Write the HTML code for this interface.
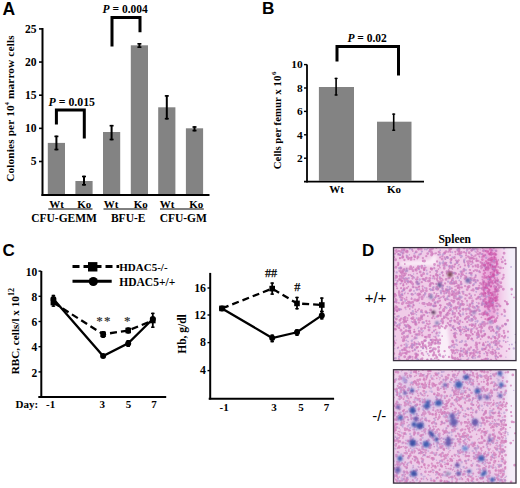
<!DOCTYPE html>
<html><head><meta charset="utf-8"><style>
html,body{margin:0;padding:0;background:#fff;}
svg{display:block;}
</style></head><body>
<svg width="520" height="488" viewBox="0 0 520 488">
<text x="2.5" y="14.5" font-family="'Liberation Sans',sans-serif" font-weight="bold" font-size="17.5" text-anchor="start" >A</text>
<line x1="42.5" y1="28" x2="42.5" y2="196" stroke="#000" stroke-width="2" />
<line x1="39" y1="28.9" x2="42.5" y2="28.9" stroke="#000" stroke-width="1.6" />
<text x="36.5" y="32.6" font-family="'Liberation Serif',serif" font-weight="bold" font-size="11.6" text-anchor="end" >25</text>
<line x1="39" y1="62.05" x2="42.5" y2="62.05" stroke="#000" stroke-width="1.6" />
<text x="36.5" y="65.75" font-family="'Liberation Serif',serif" font-weight="bold" font-size="11.6" text-anchor="end" >20</text>
<line x1="39" y1="95.2" x2="42.5" y2="95.2" stroke="#000" stroke-width="1.6" />
<text x="36.5" y="98.9" font-family="'Liberation Serif',serif" font-weight="bold" font-size="11.6" text-anchor="end" >15</text>
<line x1="39" y1="128.35" x2="42.5" y2="128.35" stroke="#000" stroke-width="1.6" />
<text x="36.5" y="132.04999999999998" font-family="'Liberation Serif',serif" font-weight="bold" font-size="11.6" text-anchor="end" >10</text>
<line x1="39" y1="161.5" x2="42.5" y2="161.5" stroke="#000" stroke-width="1.6" />
<text x="36.5" y="165.2" font-family="'Liberation Serif',serif" font-weight="bold" font-size="11.6" text-anchor="end" >5</text>
<line x1="41.5" y1="195" x2="209.5" y2="195" stroke="#000" stroke-width="2.2" />
<rect x="47.8" y="142.9" width="17.2" height="51.099999999999994" fill="#838383"/>
<rect x="75.4" y="181" width="17.2" height="13" fill="#838383"/>
<rect x="103.0" y="132" width="17.2" height="62" fill="#838383"/>
<rect x="130.8" y="45.3" width="17.2" height="148.7" fill="#838383"/>
<rect x="158.20000000000002" y="107.3" width="17.2" height="86.7" fill="#838383"/>
<rect x="185.9" y="128.3" width="17.2" height="65.69999999999999" fill="#838383"/>
<line x1="56.4" y1="135.6" x2="56.4" y2="150.3" stroke="#000" stroke-width="2" />
<line x1="54.4" y1="136.4" x2="58.4" y2="136.4" stroke="#000" stroke-width="1.6" />
<line x1="54.4" y1="149.5" x2="58.4" y2="149.5" stroke="#000" stroke-width="1.6" />
<line x1="84" y1="175.7" x2="84" y2="185.6" stroke="#000" stroke-width="2" />
<line x1="82.0" y1="176.5" x2="86.0" y2="176.5" stroke="#000" stroke-width="1.6" />
<line x1="82.0" y1="184.79999999999998" x2="86.0" y2="184.79999999999998" stroke="#000" stroke-width="1.6" />
<line x1="111.6" y1="124.9" x2="111.6" y2="140.3" stroke="#000" stroke-width="2" />
<line x1="109.6" y1="125.7" x2="113.6" y2="125.7" stroke="#000" stroke-width="1.6" />
<line x1="109.6" y1="139.5" x2="113.6" y2="139.5" stroke="#000" stroke-width="1.6" />
<line x1="139.4" y1="43" x2="139.4" y2="48" stroke="#000" stroke-width="2" />
<line x1="137.4" y1="43.8" x2="141.4" y2="43.8" stroke="#000" stroke-width="1.6" />
<line x1="137.4" y1="47.2" x2="141.4" y2="47.2" stroke="#000" stroke-width="1.6" />
<line x1="166.8" y1="95.1" x2="166.8" y2="119.5" stroke="#000" stroke-width="2" />
<line x1="164.8" y1="95.89999999999999" x2="168.8" y2="95.89999999999999" stroke="#000" stroke-width="1.6" />
<line x1="164.8" y1="118.7" x2="168.8" y2="118.7" stroke="#000" stroke-width="1.6" />
<line x1="194.5" y1="126.2" x2="194.5" y2="131.4" stroke="#000" stroke-width="2" />
<line x1="192.5" y1="127.0" x2="196.5" y2="127.0" stroke="#000" stroke-width="1.6" />
<line x1="192.5" y1="130.6" x2="196.5" y2="130.6" stroke="#000" stroke-width="1.6" />
<path d="M56.4 124.4 V110.1 H84.3 V138.6" fill="none" stroke="#000" stroke-width="3"/>
<path d="M112 46.5 V17.6 H140 V32.2" fill="none" stroke="#000" stroke-width="3"/>
<text x="48.6" y="106" font-family="'Liberation Serif',serif" font-weight="bold" font-size="11.8" text-anchor="start" ><tspan font-style="italic">P</tspan> = 0.015</text>
<text x="102.6" y="12.9" font-family="'Liberation Serif',serif" font-weight="bold" font-size="11.5" text-anchor="start" ><tspan font-style="italic">P</tspan> = 0.004</text>
<text x="56.5" y="207.5" font-family="'Liberation Serif',serif" font-weight="bold" font-size="11" text-anchor="middle" >Wt</text>
<text x="84.2" y="207.5" font-family="'Liberation Serif',serif" font-weight="bold" font-size="11" text-anchor="middle" >Ko</text>
<text x="111.2" y="207.5" font-family="'Liberation Serif',serif" font-weight="bold" font-size="11" text-anchor="middle" >Wt</text>
<text x="140.7" y="207.5" font-family="'Liberation Serif',serif" font-weight="bold" font-size="11" text-anchor="middle" >Ko</text>
<text x="167.1" y="207.5" font-family="'Liberation Serif',serif" font-weight="bold" font-size="11" text-anchor="middle" >Wt</text>
<text x="196.3" y="207.5" font-family="'Liberation Serif',serif" font-weight="bold" font-size="11" text-anchor="middle" >Ko</text>
<line x1="48.3" y1="209" x2="92.5" y2="209" stroke="#000" stroke-width="1" />
<line x1="103.5" y1="209" x2="147.2" y2="209" stroke="#000" stroke-width="1" />
<line x1="160" y1="209" x2="203.8" y2="209" stroke="#000" stroke-width="1" />
<text x="64.1" y="221.5" font-family="'Liberation Serif',serif" font-weight="bold" font-size="11.5" text-anchor="middle" >CFU-GEMM</text>
<text x="128.2" y="221.5" font-family="'Liberation Serif',serif" font-weight="bold" font-size="11.5" text-anchor="middle" >BFU-E</text>
<text x="183.3" y="221.5" font-family="'Liberation Serif',serif" font-weight="bold" font-size="11.5" text-anchor="middle" >CFU-GM</text>
<text transform="translate(14.0,108.5) rotate(-90)" font-family="'Liberation Serif',serif" font-weight="bold" font-size="11.25" letter-spacing="0.15" text-anchor="middle">Colonies per 10<tspan dy="-5" font-size="6.3">4</tspan><tspan dy="5"> marrow cells</tspan></text>
<text x="262" y="14.3" font-family="'Liberation Sans',sans-serif" font-weight="bold" font-size="17.2" text-anchor="start" >B</text>
<line x1="307" y1="64.6" x2="307" y2="182.5" stroke="#000" stroke-width="1.8" />
<line x1="304" y1="64.6" x2="307" y2="64.6" stroke="#000" stroke-width="1.4" />
<text x="302.6" y="68.39999999999999" font-family="'Liberation Serif',serif" font-weight="bold" font-size="11.4" text-anchor="end" >10</text>
<line x1="304" y1="88.0" x2="307" y2="88.0" stroke="#000" stroke-width="1.4" />
<text x="302.6" y="91.8" font-family="'Liberation Serif',serif" font-weight="bold" font-size="11.4" text-anchor="end" >8</text>
<line x1="304" y1="111.4" x2="307" y2="111.4" stroke="#000" stroke-width="1.4" />
<text x="302.6" y="115.2" font-family="'Liberation Serif',serif" font-weight="bold" font-size="11.4" text-anchor="end" >6</text>
<line x1="304" y1="134.8" x2="307" y2="134.8" stroke="#000" stroke-width="1.4" />
<text x="302.6" y="138.60000000000002" font-family="'Liberation Serif',serif" font-weight="bold" font-size="11.4" text-anchor="end" >4</text>
<line x1="304" y1="158.2" x2="307" y2="158.2" stroke="#000" stroke-width="1.4" />
<text x="302.6" y="162.0" font-family="'Liberation Serif',serif" font-weight="bold" font-size="11.4" text-anchor="end" >2</text>
<line x1="304" y1="181.6" x2="424" y2="181.6" stroke="#000" stroke-width="1.8" />
<rect x="318.9" y="87" width="35.1" height="94" fill="#838383"/>
<rect x="377" y="121.7" width="34.5" height="59.4" fill="#838383"/>
<line x1="336.1" y1="77.8" x2="336.1" y2="95.6" stroke="#000" stroke-width="1.6" />
<line x1="334.6" y1="78.45" x2="337.6" y2="78.45" stroke="#000" stroke-width="1.3" />
<line x1="334.6" y1="94.94999999999999" x2="337.6" y2="94.94999999999999" stroke="#000" stroke-width="1.3" />
<line x1="393.7" y1="113.5" x2="393.7" y2="130.9" stroke="#000" stroke-width="1.6" />
<line x1="392.2" y1="114.15" x2="395.2" y2="114.15" stroke="#000" stroke-width="1.3" />
<line x1="392.2" y1="130.25" x2="395.2" y2="130.25" stroke="#000" stroke-width="1.3" />
<path d="M337 61.6 V46.5 H398.5 V75.5" fill="none" stroke="#000" stroke-width="3"/>
<text x="347.4" y="41.9" font-family="'Liberation Serif',serif" font-weight="bold" font-size="11.5" text-anchor="start" ><tspan font-style="italic">P</tspan> = 0.02</text>
<text x="336.5" y="192.8" font-family="'Liberation Serif',serif" font-weight="bold" font-size="11" text-anchor="middle" >Wt</text>
<text x="394" y="192.8" font-family="'Liberation Serif',serif" font-weight="bold" font-size="11" text-anchor="middle" >Ko</text>
<text transform="translate(280.8,120.4) rotate(-90)" font-family="'Liberation Serif',serif" font-weight="bold" font-size="10.85" text-anchor="middle">Cells per femur x 10<tspan dx="0.6" dy="-4.8" font-size="7">6</tspan></text>
<text x="2.5" y="256" font-family="'Liberation Sans',sans-serif" font-weight="bold" font-size="17" text-anchor="start" >C</text>
<line x1="41.3" y1="271" x2="41.3" y2="397.5" stroke="#000" stroke-width="2" />
<line x1="38.5" y1="271.1" x2="41.3" y2="271.1" stroke="#000" stroke-width="1.4" />
<text x="37.2" y="275.70000000000005" font-family="'Liberation Serif',serif" font-weight="bold" font-size="11.5" text-anchor="end" >10</text>
<line x1="38.5" y1="296.3" x2="41.3" y2="296.3" stroke="#000" stroke-width="1.4" />
<text x="37.2" y="300.90000000000003" font-family="'Liberation Serif',serif" font-weight="bold" font-size="11.5" text-anchor="end" >8</text>
<line x1="38.5" y1="321.5" x2="41.3" y2="321.5" stroke="#000" stroke-width="1.4" />
<text x="37.2" y="326.1" font-family="'Liberation Serif',serif" font-weight="bold" font-size="11.5" text-anchor="end" >6</text>
<line x1="38.5" y1="346.7" x2="41.3" y2="346.7" stroke="#000" stroke-width="1.4" />
<text x="37.2" y="351.3" font-family="'Liberation Serif',serif" font-weight="bold" font-size="11.5" text-anchor="end" >4</text>
<line x1="38.5" y1="371.9" x2="41.3" y2="371.9" stroke="#000" stroke-width="1.4" />
<text x="37.2" y="376.5" font-family="'Liberation Serif',serif" font-weight="bold" font-size="11.5" text-anchor="end" >2</text>
<line x1="38.3" y1="396.9" x2="166.2" y2="396.9" stroke="#000" stroke-width="2" />
<text x="15.5" y="408.3" font-family="'Liberation Serif',serif" font-weight="bold" font-size="11" text-anchor="start" >Day:</text>
<text x="50.7" y="408.2" font-family="'Liberation Serif',serif" font-weight="bold" font-size="11" text-anchor="middle" >-1</text>
<text x="102.3" y="408.2" font-family="'Liberation Serif',serif" font-weight="bold" font-size="11" text-anchor="middle" >3</text>
<text x="128.5" y="408.2" font-family="'Liberation Serif',serif" font-weight="bold" font-size="11" text-anchor="middle" >5</text>
<text x="154" y="408.2" font-family="'Liberation Serif',serif" font-weight="bold" font-size="11" text-anchor="middle" >7</text>
<polyline points="53.4,299 103.1,356 128.2,343.4 152.8,319" fill="none" stroke="#000" stroke-width="2.3" />
<polyline points="53.4,302.5 103.1,334.3 128.2,330.5 152.8,320.5" fill="none" stroke="#000" stroke-width="2.3" stroke-dasharray="7,4"/>
<line x1="53.4" y1="294.8" x2="53.4" y2="306.8" stroke="#000" stroke-width="1.8" />
<line x1="51.65" y1="295.5" x2="55.15" y2="295.5" stroke="#000" stroke-width="1.4" />
<line x1="51.65" y1="306.1" x2="55.15" y2="306.1" stroke="#000" stroke-width="1.4" />
<line x1="103.1" y1="331" x2="103.1" y2="338" stroke="#000" stroke-width="1.8" />
<line x1="101.35" y1="331.7" x2="104.85" y2="331.7" stroke="#000" stroke-width="1.4" />
<line x1="101.35" y1="337.3" x2="104.85" y2="337.3" stroke="#000" stroke-width="1.4" />
<line x1="128.2" y1="327.5" x2="128.2" y2="333.5" stroke="#000" stroke-width="1.8" />
<line x1="126.44999999999999" y1="328.2" x2="129.95" y2="328.2" stroke="#000" stroke-width="1.4" />
<line x1="126.44999999999999" y1="332.8" x2="129.95" y2="332.8" stroke="#000" stroke-width="1.4" />
<line x1="152.8" y1="312.7" x2="152.8" y2="327.9" stroke="#000" stroke-width="1.8" />
<line x1="151.05" y1="313.4" x2="154.55" y2="313.4" stroke="#000" stroke-width="1.4" />
<line x1="151.05" y1="327.2" x2="154.55" y2="327.2" stroke="#000" stroke-width="1.4" />
<line x1="128.2" y1="340" x2="128.2" y2="347" stroke="#000" stroke-width="1.8" />
<line x1="126.44999999999999" y1="340.7" x2="129.95" y2="340.7" stroke="#000" stroke-width="1.4" />
<line x1="126.44999999999999" y1="346.3" x2="129.95" y2="346.3" stroke="#000" stroke-width="1.4" />
<rect x="50.6" y="299.7" width="5.6" height="5.6" fill="#000"/>
<rect x="100.3" y="331.5" width="5.6" height="5.6" fill="#000"/>
<rect x="125.39999999999999" y="327.7" width="5.6" height="5.6" fill="#000"/>
<rect x="150.0" y="317.7" width="5.6" height="5.6" fill="#000"/>
<circle cx="53.4" cy="299" r="3" fill="#000"/>
<circle cx="103.1" cy="356" r="3" fill="#000"/>
<circle cx="128.2" cy="343.4" r="3" fill="#000"/>
<circle cx="152.8" cy="319" r="3" fill="#000"/>
<text x="99.6" y="325.3" font-family="'Liberation Serif',serif" font-weight="bold" font-size="13" text-anchor="middle" fill="#3a3a3a">*</text>
<text x="107.3" y="325.3" font-family="'Liberation Serif',serif" font-weight="bold" font-size="13" text-anchor="middle" fill="#3a3a3a">*</text>
<text x="127.2" y="325.3" font-family="'Liberation Serif',serif" font-weight="bold" font-size="13" text-anchor="middle" fill="#3a3a3a">*</text>
<line x1="72.5" y1="266.5" x2="119.2" y2="266.5" stroke="#000" stroke-width="3" stroke-dasharray="7,4"/>
<rect x="88.0" y="262.1" width="9.4" height="9.4" fill="#000"/>
<line x1="72.5" y1="281.2" x2="111.7" y2="281.2" stroke="#000" stroke-width="3" />
<circle cx="93.3" cy="281.5" r="4.6" fill="#000"/>
<text x="119.3" y="271" font-family="'Liberation Serif',serif" font-weight="bold" font-size="11" text-anchor="start" >HDAC5-/-</text>
<text x="119.3" y="285.6" font-family="'Liberation Serif',serif" font-weight="bold" font-size="11.5" text-anchor="start" >HDAC5+/+</text>
<text transform="translate(19,331.2) rotate(-90)" font-family="'Liberation Serif',serif" font-weight="bold" font-size="11.2" text-anchor="middle">RBC, cells/l x 10<tspan dy="-5" font-size="8">12</tspan></text>
<line x1="210.2" y1="272.9" x2="210.2" y2="399.5" stroke="#000" stroke-width="2" />
<line x1="207.5" y1="288" x2="210.2" y2="288" stroke="#000" stroke-width="1.4" />
<text x="206" y="291.8" font-family="'Liberation Serif',serif" font-weight="bold" font-size="11.8" text-anchor="end" >16</text>
<line x1="207.5" y1="315" x2="210.2" y2="315" stroke="#000" stroke-width="1.4" />
<text x="206" y="318.8" font-family="'Liberation Serif',serif" font-weight="bold" font-size="11.8" text-anchor="end" >12</text>
<line x1="207.5" y1="342.6" x2="210.2" y2="342.6" stroke="#000" stroke-width="1.4" />
<text x="206" y="346.40000000000003" font-family="'Liberation Serif',serif" font-weight="bold" font-size="11.8" text-anchor="end" >8</text>
<line x1="207.5" y1="370.6" x2="210.2" y2="370.6" stroke="#000" stroke-width="1.4" />
<text x="206" y="374.40000000000003" font-family="'Liberation Serif',serif" font-weight="bold" font-size="11.8" text-anchor="end" >4</text>
<line x1="208.7" y1="398.8" x2="334.1" y2="398.8" stroke="#000" stroke-width="2" />
<text x="224.1" y="410.8" font-family="'Liberation Serif',serif" font-weight="bold" font-size="11" text-anchor="middle" >-1</text>
<text x="274" y="410.8" font-family="'Liberation Serif',serif" font-weight="bold" font-size="11" text-anchor="middle" >3</text>
<text x="300.9" y="410.8" font-family="'Liberation Serif',serif" font-weight="bold" font-size="11" text-anchor="middle" >5</text>
<text x="326.4" y="410.8" font-family="'Liberation Serif',serif" font-weight="bold" font-size="11" text-anchor="middle" >7</text>
<polyline points="222,308.4 272.2,338 297,332.3 321.8,315.4" fill="none" stroke="#000" stroke-width="2.3" />
<polyline points="222,308.4 272.2,288.6 297,303.4 321.8,305" fill="none" stroke="#000" stroke-width="2.3" stroke-dasharray="7,4"/>
<line x1="272.2" y1="282.4" x2="272.2" y2="294.8" stroke="#000" stroke-width="1.8" />
<line x1="270.45" y1="283.09999999999997" x2="273.95" y2="283.09999999999997" stroke="#000" stroke-width="1.4" />
<line x1="270.45" y1="294.1" x2="273.95" y2="294.1" stroke="#000" stroke-width="1.4" />
<line x1="297" y1="296.8" x2="297" y2="309.4" stroke="#000" stroke-width="1.8" />
<line x1="295.25" y1="297.5" x2="298.75" y2="297.5" stroke="#000" stroke-width="1.4" />
<line x1="295.25" y1="308.7" x2="298.75" y2="308.7" stroke="#000" stroke-width="1.4" />
<line x1="321.8" y1="297.4" x2="321.8" y2="312" stroke="#000" stroke-width="1.8" />
<line x1="320.05" y1="298.09999999999997" x2="323.55" y2="298.09999999999997" stroke="#000" stroke-width="1.4" />
<line x1="320.05" y1="311.3" x2="323.55" y2="311.3" stroke="#000" stroke-width="1.4" />
<line x1="272.2" y1="334.5" x2="272.2" y2="342.3" stroke="#000" stroke-width="1.8" />
<line x1="270.45" y1="335.2" x2="273.95" y2="335.2" stroke="#000" stroke-width="1.4" />
<line x1="270.45" y1="341.6" x2="273.95" y2="341.6" stroke="#000" stroke-width="1.4" />
<line x1="297" y1="329.2" x2="297" y2="335.9" stroke="#000" stroke-width="1.8" />
<line x1="295.25" y1="329.9" x2="298.75" y2="329.9" stroke="#000" stroke-width="1.4" />
<line x1="295.25" y1="335.2" x2="298.75" y2="335.2" stroke="#000" stroke-width="1.4" />
<line x1="321.8" y1="311" x2="321.8" y2="319.5" stroke="#000" stroke-width="1.8" />
<line x1="320.05" y1="311.7" x2="323.55" y2="311.7" stroke="#000" stroke-width="1.4" />
<line x1="320.05" y1="318.8" x2="323.55" y2="318.8" stroke="#000" stroke-width="1.4" />
<rect x="219.2" y="305.59999999999997" width="5.6" height="5.6" fill="#000"/>
<rect x="269.4" y="285.8" width="5.6" height="5.6" fill="#000"/>
<rect x="294.2" y="300.59999999999997" width="5.6" height="5.6" fill="#000"/>
<rect x="319.0" y="302.2" width="5.6" height="5.6" fill="#000"/>
<circle cx="222" cy="308.4" r="3" fill="#000"/>
<circle cx="272.2" cy="338" r="3" fill="#000"/>
<circle cx="297" cy="332.3" r="3" fill="#000"/>
<circle cx="321.8" cy="315.4" r="3" fill="#000"/>
<text x="271" y="277.2" font-family="'Liberation Serif',serif" font-weight="normal" font-size="12.2" text-anchor="middle" stroke="#000" stroke-width="0.25">##</text>
<text x="297.3" y="291.1" font-family="'Liberation Serif',serif" font-weight="normal" font-size="12.2" text-anchor="middle" stroke="#000" stroke-width="0.25">#</text>
<text transform="translate(186.4,334) rotate(-90)" font-family="'Liberation Serif',serif" font-weight="bold" font-size="11.5" text-anchor="middle">Hb, g/dl</text>
<text x="362" y="256" font-family="'Liberation Sans',sans-serif" font-weight="bold" font-size="17" text-anchor="start" >D</text>
<text x="454.7" y="242.5" font-family="'Liberation Serif',serif" font-weight="bold" font-size="11.5" text-anchor="middle" >Spleen</text>
<text x="375.6" y="302.5" font-family="'Liberation Sans',sans-serif" font-weight="normal" font-size="15" text-anchor="middle" >+/+</text>
<text x="379.3" y="421" font-family="'Liberation Sans',sans-serif" font-weight="normal" font-size="15" text-anchor="middle" >-/-</text>
<defs>
<filter id="b3" x="-30%" y="-30%" width="160%" height="160%"><feGaussianBlur stdDeviation="3"/></filter>
<filter id="b2" x="-30%" y="-30%" width="160%" height="160%"><feGaussianBlur stdDeviation="1.8"/></filter>
<filter id="b07"><feGaussianBlur stdDeviation="0.6"/></filter>
<filter id="b12" x="-50%" y="-50%" width="200%" height="200%"><feGaussianBlur stdDeviation="1.1"/></filter>
</defs><defs><clipPath id="c1"><rect x="393.5" y="247.6" width="122.5" height="113"/></clipPath></defs><g clip-path="url(#c1)"><rect x="393.5" y="247.6" width="122.5" height="113" fill="#f0cce8"/><g filter="url(#b3)"><path d="M482 240 L498 240 L499 300 L497 318 L485 318 L482 300 Z" fill="#eaa8da"/><path d="M498 240 L506 240 L510 365 L500 365 L499 300 Z" fill="#f4d6ee"/><path d="M506 240 L520 240 L520 365 L511 365 Z" fill="#f3eff9"/></g><g filter="url(#b2)"><path d="M400 262 L430 260 L433 255 L437 256 L436 266 L428 265.5 L401 265.5 Z" fill="#fbf2fa" opacity="0.85"/><path d="M440 326 L447 324 L452 362 L437 362 Z" fill="#fcf4fc" opacity="0.85"/><path d="M418 338 L440 340 L440 362 L420 362 Z" fill="#f8eaf6" opacity="0.8"/></g><g filter="url(#b07)"><path d="M492.0 301.4h0M473.6 317.2h0M495.4 254.7h0M397.1 311.2h0M470.6 335.6h0M431.6 249.3h0M472.4 260.8h0M398.7 264.1h0M488.2 284.8h0M402.6 271.2h0M452.8 312.5h0M457.2 352.6h0M395.5 278.0h0M399.2 279.5h0M434.0 330.4h0M402.7 255.2h0M409.4 356.5h0M395.3 322.4h0M404.2 250.1h0M475.1 270.0h0M494.2 260.3h0M449.2 250.4h0M489.0 337.6h0M459.6 354.6h0M404.2 353.0h0M448.7 269.8h0M408.6 275.0h0M487.6 302.7h0M426.9 303.8h0M455.1 316.0h0M397.1 277.0h0M433.0 287.8h0M417.3 258.5h0M495.5 338.3h0M452.5 269.0h0M496.4 359.5h0M464.5 262.8h0M413.7 305.5h0M430.1 272.0h0M463.9 260.6h0M424.9 293.0h0M475.4 355.6h0M474.8 332.1h0M399.6 359.3h0M407.6 318.1h0M468.2 329.5h0M471.1 332.7h0M419.3 286.4h0M491.8 298.1h0M466.6 280.5h0M493.4 300.0h0M402.8 271.7h0M459.7 342.1h0M404.5 298.9h0M401.3 309.4h0M436.4 338.8h0M436.3 248.0h0M506.6 351.1h0M418.5 295.6h0M451.3 330.2h0M406.8 268.5h0M460.6 355.7h0M490.0 254.1h0M459.0 264.6h0M418.5 351.1h0M403.6 278.1h0M465.4 344.5h0M419.0 309.0h0M481.1 288.2h0M475.3 324.0h0M451.7 280.8h0M404.1 268.9h0M471.9 298.1h0M466.1 257.8h0M435.4 340.6h0M442.6 326.7h0M439.8 305.2h0M460.7 287.4h0M480.1 353.4h0M470.3 270.0h0M452.0 294.8h0M495.3 268.6h0M468.9 320.0h0M408.0 293.4h0M434.0 306.4h0M485.0 311.6h0M479.0 310.9h0M417.0 347.1h0M503.2 268.0h0M491.9 257.4h0M423.6 279.1h0M477.3 306.4h0M490.4 274.3h0M497.9 315.8h0M466.6 328.4h0M455.2 329.3h0M464.5 329.2h0M479.1 327.1h0M453.5 333.6h0M484.7 306.6h0M461.6 300.9h0M421.7 276.2h0M434.8 358.5h0M410.3 274.8h0M396.0 284.0h0M398.5 264.6h0M430.0 323.4h0M431.3 350.9h0M438.1 254.7h0M417.1 273.4h0M457.3 352.3h0M478.7 325.2h0M480.0 351.3h0M481.2 284.5h0M465.2 353.9h0M399.5 328.2h0M417.2 287.9h0M441.2 326.0h0M411.1 318.3h0M475.6 248.1h0M424.4 268.9h0M482.3 267.5h0M459.5 323.9h0M485.8 282.6h0M466.3 277.5h0M399.9 258.3h0M406.8 359.2h0M402.1 291.7h0M471.3 290.3h0M470.5 304.6h0M475.0 295.0h0M439.5 308.8h0M458.2 298.6h0M433.7 276.5h0M483.8 359.4h0M485.7 349.0h0M496.4 321.0h0M491.2 305.4h0M417.5 279.2h0M406.6 297.4h0M468.2 288.0h0M456.4 294.8h0M428.4 346.2h0M474.2 277.8h0M475.8 275.3h0M406.3 321.9h0M465.8 326.4h0M475.3 265.2h0M446.6 273.6h0M492.9 330.2h0M444.1 311.0h0M414.3 259.4h0M511.6 294.3h0M412.7 307.6h0M453.9 350.7h0M418.4 359.8h0M470.1 277.8h0M439.1 283.1h0M442.8 279.9h0M442.1 273.1h0M481.4 317.3h0M434.6 318.3h0M414.6 257.0h0M439.8 298.2h0M419.4 294.5h0M488.9 259.5h0M488.2 284.2h0M436.5 294.0h0M491.8 276.4h0M463.1 309.9h0M430.5 275.5h0M499.0 330.9h0M494.2 309.1h0M436.2 273.8h0M408.2 359.3h0M401.0 322.9h0M459.9 297.0h0M458.0 287.6h0M501.3 259.1h0M404.4 349.2h0M479.5 353.7h0M500.0 355.8h0M401.8 337.3h0M443.4 285.5h0M473.3 352.8h0M457.5 276.4h0M462.4 354.3h0M436.1 253.2h0M416.3 356.7h0M436.4 360.3h0M416.9 354.3h0M413.4 267.2h0M396.5 286.2h0M400.4 283.7h0M455.2 295.8h0M455.1 286.3h0M480.7 339.1h0M407.9 301.4h0M398.3 347.4h0M421.8 317.5h0M456.7 283.3h0M396.8 277.8h0M424.1 270.1h0M465.3 295.0h0M416.7 334.2h0M398.6 254.2h0M422.9 345.2h0M455.8 294.0h0M487.4 276.9h0M485.1 296.6h0M462.3 309.1h0M460.4 266.6h0M424.1 267.7h0M471.5 250.6h0M479.2 285.7h0M490.0 347.8h0M467.0 345.0h0M466.0 278.0h0M491.5 297.8h0M447.9 312.6h0M491.1 317.7h0M505.8 342.0h0M431.5 345.0h0M457.6 357.9h0M493.3 329.4h0M435.6 329.7h0M481.1 268.5h0M440.5 307.6h0M411.7 314.6h0M398.8 308.9h0M439.5 266.0h0M467.2 351.1h0M418.1 320.0h0M425.8 281.2h0M475.3 345.1h0M417.8 310.5h0M427.2 359.6h0M412.1 336.1h0M451.8 259.0h0M467.2 305.2h0M459.5 288.2h0M477.1 344.2h0M429.6 289.2h0M482.7 248.0h0M485.3 254.9h0M434.2 293.0h0M402.9 273.1h0M399.0 291.0h0M492.2 282.1h0M471.8 338.3h0M463.9 261.8h0M415.1 321.8h0M404.8 264.0h0M393.6 309.5h0M458.8 313.3h0M493.7 353.5h0M438.3 295.9h0M412.4 307.0h0M460.9 348.7h0M496.3 290.7h0M435.3 297.8h0M482.2 337.0h0M398.9 302.9h0M467.1 356.0h0M497.9 284.8h0M459.5 289.3h0M469.8 248.5h0M407.6 250.9h0M495.9 305.9h0M426.6 348.9h0M483.6 282.3h0M479.3 256.3h0M440.6 305.8h0M431.8 249.8h0M474.1 258.9h0M484.4 263.0h0M414.8 331.7h0M481.2 293.4h0M448.8 324.5h0M412.6 359.1h0M403.7 319.8h0M414.3 342.2h0M466.2 344.0h0M441.9 278.6h0M464.0 331.7h0M439.7 286.8h0M496.4 359.4h0M409.0 328.6h0M438.4 269.1h0M485.6 358.6h0M469.7 355.6h0M403.9 249.6h0M397.1 316.5h0M412.6 356.9h0M459.8 253.4h0M497.5 347.2h0M414.3 329.6h0M407.5 320.2h0M492.2 272.0h0M448.0 299.4h0M455.5 264.1h0M455.3 337.5h0M412.3 249.3h0M427.8 316.1h0M491.1 251.8h0M464.8 275.6h0M495.7 358.4h0M499.3 329.0h0M429.7 348.2h0M476.6 310.6h0M429.4 312.6h0M404.0 273.4h0M404.4 344.7h0M462.2 354.9h0M494.1 317.3h0M465.9 350.5h0M485.7 302.5h0M425.7 347.1h0M415.3 257.2h0M498.3 260.0h0M485.4 296.2h0M420.8 318.1h0M488.1 284.5h0M394.3 302.0h0M449.6 313.5h0M412.6 318.7h0M401.8 273.9h0M450.6 249.6h0M457.8 268.5h0M402.0 280.1h0M460.8 316.2h0M414.6 349.5h0M476.5 305.9h0M451.8 355.1h0M490.4 279.2h0M493.6 280.3h0M399.2 354.3h0M423.4 355.2h0M439.9 285.4h0M425.8 267.5h0M402.6 295.4h0M471.0 264.3h0M430.7 268.2h0M439.1 324.2h0M455.5 306.7h0M477.9 251.6h0M441.0 292.3h0M489.6 280.1h0M432.2 350.7h0M496.9 327.8h0M451.5 259.9h0M449.8 266.3h0M479.4 271.0h0M495.5 353.5h0M485.8 342.1h0M437.4 277.7h0M497.2 303.2h0M394.5 358.4h0M437.2 280.6h0M489.4 319.3h0M428.9 355.4h0M408.2 259.3h0M422.5 312.6h0M439.1 315.5h0M469.6 269.9h0M415.3 309.4h0M395.6 298.3h0M493.2 295.9h0M493.1 323.0h0M466.0 335.5h0M482.4 279.3h0M411.7 257.4h0M435.5 303.2h0M455.7 337.6h0M460.3 360.0h0M462.6 322.2h0M403.3 283.8h0M496.7 265.2h0M447.1 257.2h0M451.5 260.0h0M476.7 333.4h0M440.0 267.7h0M433.5 283.9h0M432.2 332.4h0M404.4 350.3h0M460.3 267.2h0M440.9 283.0h0M404.6 293.6h0M505.4 263.7h0M399.2 270.9h0M471.2 296.2h0M403.2 285.6h0M455.5 294.0h0M403.9 328.1h0M482.9 287.7h0M495.1 310.1h0M472.0 318.8h0M473.9 256.5h0M422.6 288.9h0M441.2 278.7h0M454.4 359.1h0M484.3 270.9h0M408.3 286.6h0M459.2 251.1h0M418.2 346.9h0M514.0 297.4h0M452.6 353.2h0M395.0 283.7h0M470.6 261.8h0M460.9 332.3h0M412.8 251.0h0M416.7 343.7h0M482.3 360.0h0M496.3 303.4h0M450.1 255.2h0M441.1 297.1h0M455.7 260.4h0M479.9 294.3h0M426.4 351.7h0M432.0 312.1h0M442.2 336.1h0M485.8 351.7h0M490.4 277.6h0M453.7 300.6h0M436.5 338.6h0M483.4 342.9h0M408.0 351.9h0M449.0 271.7h0M400.8 360.6h0M409.8 308.9h0M401.7 291.5h0M445.4 259.2h0M474.1 279.0h0M482.2 349.9h0M462.6 301.3h0M463.9 271.5h0M472.9 262.8h0M410.3 330.5h0M472.4 333.8h0M430.8 351.7h0M460.9 257.3h0M406.6 283.9h0M459.1 249.1h0M484.5 311.9h0M465.5 318.2h0M438.2 341.3h0M448.2 251.9h0M398.7 358.9h0M455.0 334.6h0M474.0 327.8h0M476.8 260.8h0M415.6 323.0h0M456.7 310.9h0M485.8 269.1h0M435.1 253.5h0M394.2 311.0h0M476.2 252.1h0M445.4 291.0h0M455.5 254.4h0M477.1 338.0h0M437.2 302.0h0M445.5 300.3h0M440.8 316.0h0M485.2 292.7h0M497.2 278.1h0M429.8 351.7h0" stroke="#cc76ba" stroke-width="1.76" stroke-linecap="round" opacity="0.72" fill="none"/><path d="M448.9 310.9h0M471.2 314.9h0M496.7 306.3h0M394.1 257.2h0M480.2 283.2h0M393.6 271.3h0M410.0 327.5h0M491.1 267.7h0M455.8 358.9h0M430.8 347.6h0M425.0 340.7h0M465.8 352.0h0M477.4 349.4h0M468.1 256.7h0M454.4 317.0h0M507.5 303.9h0M496.0 343.5h0M432.1 342.4h0M398.6 327.7h0M473.0 311.3h0M448.2 318.8h0M451.7 267.8h0M459.0 251.7h0M439.7 311.9h0M432.7 350.4h0M455.3 251.8h0M443.0 275.4h0M397.9 265.2h0M424.2 269.9h0M492.8 349.6h0M482.5 276.9h0M479.4 343.0h0M465.1 286.1h0M478.6 334.3h0M418.8 268.5h0M472.9 248.8h0M459.9 315.0h0M445.0 307.1h0M458.5 302.2h0M491.2 272.9h0M499.0 287.9h0M447.8 323.1h0M409.3 302.0h0M489.6 318.2h0M398.3 254.5h0M396.8 251.9h0M422.3 358.5h0M445.9 289.3h0M403.1 257.0h0M478.7 303.5h0M438.3 288.7h0M491.0 331.1h0M420.6 254.1h0M434.5 278.5h0M493.5 295.3h0M487.3 306.5h0M457.7 327.8h0M488.6 267.9h0M395.6 302.0h0M467.0 300.9h0M416.2 279.4h0M470.3 354.0h0M442.4 272.2h0M423.7 295.2h0M444.6 351.2h0M415.5 269.4h0M472.8 334.3h0M474.4 316.4h0M468.4 265.5h0M460.1 311.0h0M414.1 331.9h0M467.2 261.5h0M477.4 288.7h0M410.4 333.0h0M417.9 300.5h0M489.5 329.1h0M443.9 318.1h0M432.8 253.8h0M483.2 315.1h0M501.6 346.7h0M423.2 346.3h0M478.6 307.1h0M430.2 284.3h0M421.8 282.2h0M431.2 303.9h0M478.3 254.3h0M431.0 340.0h0M501.8 314.3h0M471.9 257.8h0M394.4 313.9h0M488.7 350.4h0M466.2 334.7h0M433.3 316.3h0M484.0 335.8h0M404.3 340.3h0M489.9 254.5h0M423.0 348.2h0M444.7 257.3h0M476.7 345.1h0M444.8 252.9h0M426.4 288.4h0M475.5 281.8h0M448.8 290.2h0M499.6 273.1h0M461.9 287.5h0M422.2 319.1h0M408.2 303.3h0M428.4 327.1h0M422.9 258.1h0M433.4 276.2h0M469.5 294.0h0M401.9 300.0h0M398.2 263.0h0M458.9 274.4h0M452.4 266.0h0M496.7 341.2h0M472.1 261.8h0M429.3 321.3h0M498.3 266.9h0M491.6 342.4h0M399.8 254.9h0M452.8 294.4h0M487.5 359.0h0M427.4 359.7h0M436.9 279.2h0M418.7 286.9h0M454.7 335.8h0M408.4 331.1h0M466.3 352.9h0M492.4 298.9h0M492.9 267.8h0M450.6 262.2h0M478.2 330.8h0M487.8 270.2h0M449.5 304.8h0M476.4 299.0h0M401.4 295.0h0M466.2 345.5h0M401.0 272.7h0M419.2 289.4h0M446.6 265.2h0M509.2 348.8h0M422.6 322.5h0M429.5 335.5h0M491.1 260.0h0M407.2 351.4h0M463.1 304.2h0M438.6 296.1h0M473.0 285.3h0M457.2 307.1h0M400.4 268.4h0M400.0 258.1h0M492.4 354.2h0M428.1 360.6h0M464.5 248.2h0M412.5 278.6h0M441.1 312.5h0M487.9 264.3h0M433.7 326.4h0M446.5 317.4h0M421.8 332.7h0M454.8 264.6h0M487.2 313.4h0M492.3 316.3h0M407.0 288.1h0M475.3 280.0h0M452.9 278.4h0M479.6 314.2h0M463.9 352.3h0M498.7 353.3h0M412.7 350.8h0M487.4 323.4h0M503.6 274.9h0M457.9 285.5h0M411.9 276.2h0M404.8 325.0h0M420.2 294.4h0M475.5 255.5h0M422.0 359.8h0M399.9 251.3h0M505.5 263.8h0M449.1 289.7h0M404.8 321.5h0M429.6 337.2h0M447.3 313.6h0M451.4 318.1h0M411.1 313.1h0M459.7 299.6h0M413.4 305.1h0M465.0 265.4h0M471.8 319.2h0M473.2 325.1h0M426.5 312.5h0M472.1 357.2h0M435.5 337.1h0M413.1 276.9h0M431.6 268.6h0M482.5 254.2h0M489.7 346.3h0M471.8 303.2h0M434.0 352.4h0M458.8 313.2h0M446.7 292.6h0M444.3 293.6h0M504.3 309.8h0M478.6 297.0h0M480.5 262.1h0M425.0 337.0h0M418.9 322.5h0M432.2 318.1h0M442.7 323.4h0M487.9 308.5h0M462.5 291.8h0M490.7 303.5h0M476.3 258.7h0M458.4 359.6h0M436.7 333.4h0M456.4 308.6h0M453.4 326.2h0M420.8 317.6h0M505.6 324.1h0M467.6 286.9h0M396.5 284.2h0M396.0 275.8h0M430.2 249.3h0M444.1 291.7h0M438.5 351.9h0M478.2 331.7h0M458.7 260.3h0M481.1 332.4h0M454.7 353.3h0M394.3 324.9h0M403.7 276.0h0M437.6 316.4h0M440.2 257.4h0M421.7 267.9h0M494.7 337.1h0M463.1 305.0h0M431.2 359.2h0M409.7 290.9h0M479.2 352.1h0M502.4 278.9h0M473.8 356.1h0M401.1 318.6h0M438.3 326.0h0M445.1 283.5h0M408.9 315.3h0M476.0 288.1h0M405.5 251.6h0M477.3 309.5h0M464.8 345.1h0M428.7 335.1h0M419.4 297.5h0M449.3 304.7h0M434.3 268.3h0M495.0 350.6h0M449.6 268.0h0M455.9 273.7h0M454.3 320.4h0M489.3 296.5h0M505.1 335.9h0M502.8 257.1h0M421.2 346.8h0M453.3 283.6h0M429.8 280.9h0M484.8 348.8h0M488.9 285.1h0M505.0 301.1h0M488.6 297.0h0M496.1 251.0h0M439.9 300.7h0M490.7 277.2h0M397.6 281.0h0M442.3 256.3h0M402.2 275.3h0M447.1 304.1h0M434.6 303.1h0M473.6 258.6h0M427.0 323.6h0M452.6 327.1h0M503.5 277.4h0M485.0 334.3h0M508.0 331.7h0M468.1 330.3h0M497.6 309.7h0M467.8 338.9h0M394.1 341.5h0M466.8 295.4h0M469.7 324.9h0M429.2 302.8h0M479.0 288.0h0M494.7 259.9h0M410.0 357.0h0M475.5 276.9h0M426.4 321.0h0M408.9 305.8h0M477.8 280.7h0M451.4 350.0h0M454.0 295.1h0M431.0 268.9h0M497.7 338.8h0M401.7 281.0h0M499.8 345.6h0M422.8 344.0h0M425.7 340.5h0M494.4 277.6h0M453.0 358.2h0M420.9 359.3h0M435.9 343.4h0M410.3 282.0h0M429.0 296.3h0M486.2 347.3h0M438.4 359.8h0M493.7 331.2h0M463.3 293.7h0M402.5 297.9h0M463.5 309.2h0M435.7 343.1h0M418.6 249.4h0M435.8 355.4h0M488.6 263.6h0M469.8 313.4h0M467.5 279.7h0M405.8 352.9h0M460.7 334.4h0M416.2 355.4h0M457.0 285.9h0M453.1 342.3h0M452.4 266.4h0M415.8 311.6h0M449.8 266.1h0M428.5 336.3h0M493.7 248.0h0M433.1 355.5h0M422.6 286.5h0M445.3 263.9h0M437.1 261.5h0M406.4 299.7h0M395.1 253.6h0M451.7 288.4h0M506.7 302.2h0M417.5 277.4h0M457.8 287.9h0M406.4 303.2h0M446.1 314.9h0M454.2 266.9h0M428.7 336.7h0M471.4 311.3h0M432.6 283.1h0M492.6 329.6h0M504.2 333.0h0M467.2 321.9h0M401.3 345.6h0M461.0 276.5h0M404.4 260.0h0M412.8 322.2h0M466.1 255.4h0M442.5 288.2h0M448.5 278.3h0M497.1 317.9h0M402.6 353.3h0M460.2 330.4h0M458.7 248.5h0M485.6 285.9h0M400.9 251.8h0M470.4 258.6h0M473.7 271.1h0M460.0 356.5h0M477.5 254.0h0M470.6 273.6h0M484.1 290.0h0M426.3 256.2h0M485.3 311.5h0M455.1 358.0h0M415.5 358.0h0M497.9 357.3h0M472.9 355.7h0M494.4 270.7h0M449.0 357.0h0M400.5 279.8h0M466.6 313.8h0M483.4 287.9h0M488.6 292.0h0M496.6 298.3h0M469.9 248.2h0M415.6 334.5h0M483.3 300.5h0M436.8 332.7h0M457.7 261.1h0M492.9 352.2h0M454.3 283.7h0M441.3 284.7h0M425.6 325.8h0M396.7 302.6h0M428.5 324.4h0M408.6 305.6h0M395.3 343.2h0M460.2 321.5h0M486.5 304.4h0M398.6 250.9h0M496.0 297.1h0M419.9 344.7h0M482.2 257.1h0M406.8 250.7h0M464.1 252.2h0M395.6 250.7h0M414.9 343.5h0M430.0 334.8h0M436.3 283.9h0M471.2 329.4h0M409.7 357.6h0M469.7 304.3h0M484.7 293.6h0M478.1 307.6h0M409.4 347.3h0M479.9 272.2h0M489.1 328.2h0M447.0 290.5h0M470.9 347.5h0M480.5 299.2h0M450.3 251.8h0M405.8 350.2h0M415.9 287.6h0M397.1 288.3h0M493.8 261.7h0M491.2 338.6h0M496.9 283.5h0M487.2 355.3h0M505.0 260.5h0M493.7 306.4h0M460.8 351.0h0M395.8 329.4h0M396.4 250.1h0M449.8 310.4h0M476.8 335.1h0M396.9 311.2h0M498.7 304.5h0M449.4 302.8h0M442.6 285.6h0M415.4 324.4h0M495.8 352.3h0M466.1 253.1h0M409.5 351.7h0M493.5 316.6h0M459.0 292.9h0M405.4 307.7h0M472.9 266.5h0M411.6 298.9h0M472.0 320.7h0M463.9 304.5h0M447.7 313.0h0M496.3 250.9h0M438.8 251.9h0M465.3 298.7h0M454.2 344.6h0M409.1 326.0h0M422.3 335.4h0M487.2 358.6h0M471.9 255.6h0M394.0 296.8h0M399.6 325.5h0M449.5 278.1h0M440.6 314.6h0M459.6 320.9h0M452.3 345.3h0M462.6 329.4h0M397.2 307.5h0M481.2 324.8h0M460.9 281.8h0M426.1 347.4h0M437.4 275.4h0M481.7 359.9h0M435.5 305.9h0M483.5 344.4h0M502.0 336.1h0M394.8 293.9h0M481.4 326.3h0M470.0 273.0h0M472.1 325.9h0M401.1 288.2h0M439.6 252.7h0M492.2 321.0h0M503.8 330.9h0M394.2 308.3h0M483.7 296.2h0M437.9 265.6h0M482.2 304.9h0M478.3 260.8h0M403.4 285.2h0M404.1 290.0h0M461.4 273.9h0M421.8 317.1h0M411.9 343.7h0M440.6 305.3h0M475.7 266.4h0M448.1 304.2h0M473.4 280.6h0M497.9 289.5h0M486.0 250.8h0M406.6 347.6h0" stroke="#cc76ba" stroke-width="2.31" stroke-linecap="round" opacity="0.72" fill="none"/><path d="M405.0 281.9h0M467.0 335.5h0M497.2 291.3h0M439.5 327.7h0M393.6 345.3h0M467.2 289.6h0M470.3 282.7h0M424.1 269.0h0M417.6 355.0h0M403.1 253.0h0M421.5 310.8h0M402.6 271.6h0M479.4 356.4h0M483.8 349.3h0M483.5 313.2h0M403.8 332.4h0M503.3 289.2h0M418.3 266.8h0M495.3 290.8h0M432.7 341.2h0M450.3 321.2h0M446.0 251.6h0M490.0 263.5h0M477.9 333.2h0M429.0 330.0h0M456.5 350.1h0M419.0 343.7h0M456.7 292.9h0M408.4 258.1h0M451.9 283.4h0M454.7 313.4h0M396.3 319.1h0M413.1 270.7h0M420.2 272.0h0M460.1 327.2h0M477.4 249.6h0M437.3 340.4h0M455.4 333.3h0M398.1 309.9h0M487.2 284.5h0M436.9 271.3h0M437.5 289.4h0M491.7 327.2h0M493.3 293.4h0M450.9 248.8h0M504.1 253.2h0M458.8 291.6h0M471.7 339.1h0M465.3 319.1h0M471.9 324.7h0M458.5 360.3h0M455.0 321.4h0M402.4 257.4h0M482.4 289.0h0M447.5 314.8h0M430.8 283.5h0M403.9 319.3h0M454.0 308.3h0M469.2 252.8h0M452.9 293.1h0M412.7 284.0h0M409.6 331.4h0M502.5 326.0h0M443.2 310.5h0M473.6 249.0h0M498.4 343.0h0M412.1 318.5h0M430.0 285.7h0M433.9 354.4h0M410.8 258.3h0M452.6 351.7h0M416.6 282.3h0M463.8 270.0h0M408.7 357.6h0M449.2 293.2h0M425.8 311.8h0M485.6 302.5h0M443.6 296.6h0M474.0 353.8h0M457.2 262.3h0M493.4 292.5h0M500.0 328.2h0M414.3 345.0h0M417.6 268.1h0M429.7 278.5h0M490.3 264.6h0M507.3 304.1h0M489.4 306.0h0M422.3 297.4h0M402.4 350.1h0M431.6 252.4h0M423.9 303.7h0M476.8 328.6h0M413.2 313.7h0M435.5 326.1h0M399.5 294.9h0M492.0 301.9h0M450.8 282.5h0M469.6 306.2h0M498.2 290.7h0M419.0 294.0h0M410.2 327.4h0M459.0 298.4h0M468.4 263.5h0M470.7 311.6h0M418.2 334.4h0M492.0 301.6h0M439.7 343.3h0M433.1 289.8h0M435.3 349.0h0M454.1 301.1h0M422.8 303.4h0M403.2 340.7h0M413.0 317.8h0M429.5 294.5h0M431.5 343.5h0M400.0 276.3h0M491.7 261.7h0M426.3 278.2h0M481.9 293.7h0M412.1 347.5h0M403.4 270.3h0M461.8 271.9h0M487.4 277.5h0M454.1 282.4h0M421.3 291.5h0M419.4 331.6h0M436.4 296.3h0M396.0 267.3h0M488.8 306.9h0M469.0 286.5h0M416.2 251.9h0M402.3 303.7h0M444.5 317.0h0M469.1 349.5h0M418.8 318.7h0M439.8 339.9h0M419.2 334.2h0M417.8 294.4h0M435.3 340.3h0M404.3 288.7h0M450.4 283.3h0M442.7 321.7h0M405.2 337.4h0M478.7 336.5h0M430.4 304.9h0M492.7 304.5h0M457.8 293.5h0M441.2 281.4h0M495.9 254.6h0M433.0 340.1h0M443.3 356.8h0M437.3 275.4h0M438.7 281.6h0M432.4 340.2h0M470.0 310.0h0M495.8 355.7h0M480.7 327.0h0M454.1 297.0h0M473.3 290.2h0M477.9 288.7h0M460.1 330.5h0M400.2 353.4h0M422.1 298.8h0M420.0 319.9h0M444.1 263.8h0M403.1 302.6h0M490.9 360.2h0M411.8 268.7h0M416.1 324.2h0M431.6 255.0h0M482.5 323.8h0M476.6 347.3h0M411.4 346.0h0M464.9 278.5h0M434.7 343.4h0M422.1 353.4h0M487.2 353.1h0M462.0 303.8h0M399.7 279.3h0M495.1 337.8h0M453.5 302.1h0M478.0 298.0h0M507.7 320.4h0M488.3 285.3h0M479.9 253.3h0M429.7 344.8h0M451.8 294.6h0M416.0 357.1h0M482.5 283.7h0M454.5 336.3h0M442.8 290.9h0M450.9 259.5h0M453.1 314.0h0M408.2 282.0h0M469.7 257.7h0M421.5 315.9h0M449.2 271.6h0M494.1 342.2h0M438.2 301.6h0M485.7 313.7h0M458.2 303.6h0M440.1 278.5h0M411.7 282.8h0M497.1 326.8h0M428.0 304.7h0M421.5 328.8h0M484.8 334.2h0M461.3 252.5h0M433.0 300.4h0M451.0 305.4h0M428.4 281.1h0M454.9 273.2h0M459.0 285.6h0M466.0 309.4h0M414.7 300.0h0M395.0 329.1h0M402.4 333.7h0M471.2 331.2h0M494.9 268.4h0M422.9 279.1h0M429.0 343.0h0M475.5 318.5h0M432.7 248.4h0M418.5 248.9h0M462.7 274.6h0M416.7 300.5h0M468.9 348.9h0M497.8 280.3h0M499.5 286.2h0M437.9 316.0h0M454.3 257.8h0M407.6 325.3h0M415.3 299.9h0M482.1 335.9h0M444.2 268.3h0M413.1 286.9h0M494.5 286.5h0M473.1 289.6h0M399.2 292.8h0M405.5 273.6h0M489.1 259.9h0M430.4 351.2h0M504.2 337.4h0M422.7 343.0h0M486.5 285.6h0M409.3 327.0h0M436.7 287.4h0M476.3 342.9h0M395.0 295.0h0M467.4 249.3h0M436.8 357.5h0M443.8 265.3h0M472.6 301.0h0M408.1 306.3h0M410.7 266.7h0M402.0 277.8h0M486.4 268.2h0M418.4 299.8h0M450.6 309.5h0M495.8 290.5h0M404.6 279.8h0M488.7 337.3h0M407.5 336.3h0M408.4 281.8h0M476.9 270.6h0M444.0 309.3h0M483.4 250.8h0M457.9 250.3h0M455.1 337.1h0M410.9 281.6h0M495.5 341.0h0M439.5 354.8h0M433.7 348.6h0M488.7 278.7h0M466.5 353.8h0M421.5 275.2h0M494.1 311.6h0M401.0 330.2h0M475.0 326.0h0M410.3 357.0h0M505.3 324.1h0M449.8 249.3h0M394.9 284.4h0M421.2 249.2h0M400.8 297.4h0M449.1 295.9h0M424.5 340.7h0M492.8 302.1h0M494.6 262.4h0M454.3 298.0h0M476.6 260.8h0M459.0 253.9h0M459.2 328.4h0M444.5 253.2h0M396.5 276.5h0M457.4 319.1h0M453.3 350.7h0M430.6 309.9h0M481.8 263.1h0M445.6 263.1h0M465.9 276.9h0M416.3 270.2h0M425.1 345.8h0M416.7 347.6h0M423.2 260.9h0M457.0 298.9h0M394.4 322.3h0M414.6 320.2h0M489.6 300.8h0M450.3 325.4h0M486.9 303.3h0M404.2 249.6h0M497.9 273.6h0M475.2 310.9h0M460.7 253.2h0M430.0 250.7h0M435.3 305.8h0M421.9 297.0h0M471.3 353.1h0M424.7 328.1h0M404.7 274.9h0M442.2 259.1h0M433.7 299.8h0M469.7 297.9h0M489.1 259.3h0M453.8 292.7h0M423.9 315.1h0M459.8 306.4h0M497.1 332.3h0M511.7 289.2h0M418.0 257.0h0M463.9 349.2h0M495.1 294.8h0M446.1 279.4h0M401.9 281.3h0M457.6 317.6h0M500.5 267.9h0M500.0 306.1h0M398.8 309.9h0M424.5 261.0h0M410.7 290.0h0M477.7 265.2h0M436.2 275.0h0M474.0 350.5h0M482.1 303.6h0M476.0 351.8h0M410.7 303.0h0M473.7 307.3h0M406.3 353.6h0M452.2 279.9h0M460.2 353.9h0M422.0 342.2h0M481.2 266.4h0M434.0 305.7h0M478.0 266.7h0M483.2 344.9h0M449.4 347.2h0M400.8 271.5h0M445.4 299.2h0M415.0 337.7h0M485.6 359.2h0M407.1 252.0h0M504.8 311.6h0M501.1 286.7h0M461.1 283.8h0M446.9 271.8h0M467.5 308.9h0M447.3 257.4h0M412.6 302.2h0M446.8 289.9h0M455.5 290.1h0M423.2 290.6h0M405.2 317.4h0M404.1 336.7h0M403.9 318.4h0M455.8 308.4h0M446.3 326.3h0M463.8 247.8h0M396.9 326.1h0M467.0 317.2h0M424.6 279.8h0M500.9 356.0h0M424.3 303.8h0M484.2 325.6h0M454.9 282.8h0M454.5 329.1h0M468.6 316.8h0M482.0 313.9h0M404.7 356.7h0M405.0 318.4h0M403.6 322.3h0M401.0 268.2h0M414.4 256.0h0M467.5 360.2h0M438.2 343.3h0M502.3 261.9h0M458.1 253.9h0M409.8 268.8h0M481.0 330.8h0M471.4 273.3h0M407.0 279.1h0M493.6 275.0h0M404.6 348.4h0M484.2 322.4h0M454.4 297.9h0M399.9 320.3h0M427.7 253.6h0M421.8 266.3h0M488.0 314.2h0M426.4 290.7h0M438.8 350.8h0M498.0 284.8h0M448.8 292.1h0M489.9 326.9h0M452.1 357.3h0M491.6 352.2h0M442.4 321.5h0M469.5 260.9h0M484.4 288.0h0M472.3 258.4h0M484.8 304.3h0M496.4 344.8h0M496.1 261.9h0M396.2 300.1h0M395.9 309.8h0M445.1 328.0h0M431.8 269.2h0M488.1 345.1h0M484.7 295.2h0M452.3 291.4h0M472.8 306.7h0M469.1 286.8h0M469.0 335.4h0M407.3 256.8h0M403.6 339.2h0M406.5 326.4h0M423.6 273.7h0M451.6 300.6h0M414.8 322.3h0M395.6 259.7h0M483.5 281.3h0M471.5 278.7h0M460.9 304.8h0M487.4 303.1h0M455.8 281.7h0M452.6 341.2h0M486.8 277.3h0M492.9 268.4h0M488.6 305.6h0M405.6 321.0h0M468.5 337.7h0M402.2 249.9h0M415.7 353.9h0M393.8 353.6h0M400.9 355.0h0M488.6 283.0h0M451.5 272.3h0M440.3 312.9h0M395.6 295.5h0M485.2 324.0h0M458.9 287.1h0M492.2 266.4h0M481.8 327.8h0M406.0 330.8h0M436.5 288.6h0M395.9 306.7h0M438.6 347.3h0M439.2 283.8h0M479.0 335.7h0M457.8 322.6h0M499.2 334.6h0M434.5 264.5h0M493.3 308.3h0M411.0 259.4h0M465.7 330.9h0M442.2 319.4h0M500.8 282.8h0M426.2 337.3h0M412.2 294.4h0M490.8 352.5h0M459.2 249.8h0M499.0 336.8h0M471.7 250.2h0" stroke="#cc76ba" stroke-width="2.86" stroke-linecap="round" opacity="0.72" fill="none"/><path d="M456.5 330.6h0M488.4 300.5h0M475.1 251.5h0M446.7 262.6h0M497.2 356.7h0M446.5 314.6h0M413.7 294.6h0M455.5 352.8h0M460.9 255.4h0M480.1 249.8h0M409.3 328.9h0M481.2 288.3h0M401.4 252.5h0M448.0 271.2h0M401.4 276.6h0M483.7 264.0h0M454.8 283.2h0M486.3 345.8h0M426.9 297.1h0M417.0 336.1h0M422.2 316.2h0M437.9 293.6h0M460.6 320.3h0M433.9 336.5h0M405.7 271.4h0M467.0 302.9h0M458.1 265.8h0M414.9 339.0h0M472.8 356.5h0M492.0 277.3h0M473.5 323.9h0M394.8 348.8h0M430.3 339.4h0M406.6 257.8h0M408.8 334.1h0M494.1 269.9h0M507.8 341.5h0M458.9 308.5h0M418.2 341.8h0M461.1 275.4h0M489.2 279.0h0M401.2 283.4h0M431.1 359.1h0M466.3 331.6h0M459.9 330.1h0M423.4 247.6h0M424.2 302.6h0M434.1 267.3h0M488.1 266.8h0M425.2 306.4h0M416.8 343.8h0M471.1 318.7h0M460.6 278.3h0M423.4 272.3h0M422.3 251.3h0M493.6 342.9h0M494.3 270.2h0M503.5 258.1h0M402.1 294.2h0M418.8 330.5h0M496.0 251.1h0M445.5 355.2h0M492.1 326.9h0M472.7 357.8h0M486.1 263.5h0M505.9 357.1h0M440.2 323.5h0M493.9 268.6h0M416.6 344.8h0M425.8 340.8h0M438.5 254.8h0M402.5 349.6h0M463.2 308.2h0M421.4 253.6h0M485.4 268.7h0M484.4 345.7h0M467.7 350.0h0M450.0 303.6h0M427.9 312.6h0M489.5 315.5h0M495.0 274.7h0M417.1 344.4h0M413.6 274.0h0M408.3 330.4h0M459.5 307.4h0M406.0 343.2h0M410.2 248.7h0M415.6 252.4h0M424.3 296.8h0M436.1 335.1h0M413.7 287.2h0M409.5 304.2h0M496.2 275.4h0M487.8 267.6h0M414.2 247.9h0M416.5 314.7h0M405.2 292.3h0M462.9 333.3h0M496.1 270.5h0M487.5 279.6h0M477.3 322.3h0M472.0 264.0h0M418.9 327.2h0M464.3 327.2h0M484.9 267.7h0M434.6 325.5h0M468.7 267.4h0M479.8 257.3h0M461.2 347.7h0M476.1 323.7h0M415.1 313.7h0M407.9 344.3h0M495.3 352.3h0M490.8 274.8h0M404.4 317.7h0M515.3 334.4h0M413.2 339.3h0M468.8 318.0h0M463.4 356.3h0M413.4 304.1h0M411.0 248.1h0M470.3 279.3h0M469.7 352.7h0M495.0 250.1h0M419.4 303.1h0M488.3 303.6h0M476.7 302.5h0M436.2 333.6h0M420.9 350.8h0M443.5 316.1h0M438.0 303.3h0M489.7 343.4h0M411.6 297.8h0M416.7 312.4h0M489.7 295.2h0M409.4 254.7h0M472.3 315.7h0M454.8 256.6h0M455.8 277.9h0M411.5 321.2h0M456.5 260.1h0M452.1 314.8h0M493.2 283.9h0M449.3 299.9h0M407.3 345.7h0M498.7 329.5h0M468.6 329.6h0M464.5 262.2h0M463.0 312.3h0M418.1 328.5h0M457.2 333.9h0M427.6 360.3h0M437.0 272.7h0M462.4 356.2h0M399.9 309.7h0M493.8 260.5h0M456.7 341.1h0M509.4 344.7h0M405.9 309.6h0M465.9 311.6h0M443.7 297.7h0M419.2 283.6h0M449.7 307.5h0M495.9 341.9h0M421.1 330.2h0M430.5 290.5h0M416.2 353.4h0M467.9 318.5h0M396.2 340.1h0M484.2 281.7h0" stroke="#ac8ccc" stroke-width="1.43" stroke-linecap="round" opacity="0.6" fill="none"/><path d="M454.3 333.5h0M472.5 328.9h0M473.2 350.2h0M444.9 266.1h0M496.8 335.1h0M477.8 356.9h0M481.5 305.1h0M433.0 360.3h0M447.3 297.3h0M421.6 251.9h0M395.6 280.1h0M476.2 291.8h0M450.5 324.8h0M435.8 270.6h0M469.2 273.2h0M473.0 358.1h0M416.1 322.0h0M424.6 280.2h0M438.2 342.2h0M410.0 357.1h0M452.3 252.3h0M395.1 336.2h0M463.4 326.9h0M483.0 303.7h0M482.8 303.0h0M485.4 255.4h0M458.5 350.5h0M478.9 309.2h0M407.5 337.3h0M432.5 278.3h0M430.0 327.4h0M499.0 281.9h0M468.4 358.1h0M484.2 353.6h0M484.2 250.4h0M461.4 284.5h0M445.2 258.7h0M447.4 289.5h0M396.3 301.6h0M440.1 250.3h0M460.6 314.4h0M426.6 270.5h0M397.8 324.9h0M492.2 347.3h0M471.6 315.1h0M411.8 249.8h0M414.3 277.7h0M486.1 297.4h0M464.3 261.6h0M457.2 345.1h0M475.1 357.9h0M453.0 280.5h0M439.8 276.8h0M448.0 296.3h0M466.8 251.0h0M414.0 290.9h0M482.5 301.9h0M488.1 358.9h0M459.5 292.4h0M403.3 289.7h0M456.0 344.2h0M418.4 359.9h0M411.6 275.6h0M490.8 298.9h0M408.1 341.6h0M459.9 255.4h0M424.8 249.4h0M448.3 305.5h0M483.2 299.6h0M432.5 305.8h0M427.9 248.2h0M460.7 359.3h0M477.2 280.3h0M435.1 297.3h0M466.3 273.4h0M403.8 333.1h0M446.9 257.0h0M471.1 254.5h0M471.2 280.4h0M489.2 285.2h0M511.9 344.4h0M457.8 299.6h0M460.9 298.1h0M441.5 272.6h0M459.3 280.4h0M393.6 267.8h0M412.0 345.0h0M424.7 287.7h0M434.0 331.4h0M459.9 293.5h0M402.5 253.1h0M440.8 321.0h0M423.0 330.9h0M439.9 274.4h0M417.2 289.6h0M429.0 251.6h0M473.1 340.6h0M430.6 289.0h0M503.6 340.8h0M409.7 248.8h0M455.0 329.3h0M427.4 313.0h0M496.9 349.0h0M487.1 285.7h0M448.6 266.2h0M411.4 360.5h0M405.1 301.0h0M403.1 251.0h0M493.9 260.8h0M419.1 269.4h0M440.5 356.1h0M481.8 296.0h0M411.3 293.9h0M432.5 349.5h0M453.9 291.6h0M397.6 348.1h0M416.6 318.3h0M485.4 267.1h0M415.3 293.2h0M471.2 295.4h0M487.9 341.8h0M456.1 296.8h0M425.0 294.8h0M495.5 357.0h0M439.6 284.1h0M414.5 253.4h0M427.7 353.7h0M400.0 351.0h0M396.8 282.7h0M393.6 313.3h0M507.9 337.4h0M406.6 255.4h0M418.8 284.0h0M433.1 312.0h0M464.1 268.8h0M451.6 320.3h0M481.6 254.2h0M463.6 291.7h0M406.5 280.8h0M436.3 316.9h0M493.1 277.2h0M475.6 275.2h0M426.7 249.6h0M475.4 321.5h0M406.2 344.4h0M492.5 299.7h0M443.4 261.2h0M439.7 262.4h0M438.6 298.5h0M476.5 288.4h0M393.9 254.8h0M411.4 313.4h0M441.5 282.8h0M494.9 266.3h0M486.4 285.7h0M452.3 257.3h0M487.0 296.2h0M424.6 265.6h0M489.1 295.1h0M511.1 266.9h0M446.0 293.0h0M493.2 302.5h0M447.3 286.8h0M406.4 340.4h0M478.7 271.6h0M497.9 328.6h0M430.6 340.3h0M497.4 306.3h0M419.8 266.5h0M398.4 253.6h0M482.0 295.1h0M404.0 278.5h0M416.7 335.0h0M405.8 278.0h0" stroke="#ac8ccc" stroke-width="1.93" stroke-linecap="round" opacity="0.6" fill="none"/><path d="M399.1 356.7h0M476.4 288.8h0M484.3 266.1h0M399.1 268.2h0M451.2 306.5h0M457.6 249.5h0M427.2 273.7h0M407.1 270.8h0M457.9 277.8h0M472.3 249.5h0M473.9 280.1h0M431.9 289.9h0M477.5 320.9h0M411.8 340.7h0M492.3 250.3h0M447.2 298.7h0M442.5 286.2h0M454.2 347.3h0M440.0 254.6h0M459.5 296.1h0M442.6 289.1h0M475.8 248.3h0M440.7 286.3h0M400.3 254.8h0M402.2 294.2h0M436.5 288.9h0M452.5 311.3h0M493.0 336.5h0M433.6 287.2h0M417.6 284.1h0M461.7 351.1h0M433.9 306.1h0M462.4 351.0h0M460.4 296.7h0M474.8 249.4h0M492.2 303.0h0M513.8 348.4h0M443.0 254.5h0M488.4 292.8h0M473.1 319.5h0M406.0 326.2h0M415.0 349.7h0M460.6 330.8h0M461.7 256.2h0M491.9 254.1h0M419.7 279.5h0M396.7 272.4h0M475.7 282.4h0M459.0 323.8h0M438.5 335.6h0M468.4 329.0h0M431.0 294.7h0M451.5 346.4h0M413.2 344.7h0M399.5 323.9h0M489.5 279.0h0M451.4 266.8h0M485.5 304.2h0M440.7 291.0h0M488.2 305.6h0M467.2 352.2h0M496.0 333.0h0M497.4 274.6h0M400.9 299.9h0M439.9 263.8h0M495.3 344.9h0M453.7 272.9h0M400.0 309.3h0M496.6 280.6h0M493.4 269.4h0M451.5 282.9h0M497.4 313.5h0M499.5 341.1h0M406.4 346.3h0M516.0 342.4h0M447.7 257.9h0M477.2 305.9h0M482.1 348.7h0M483.6 330.9h0M464.4 259.7h0M412.1 347.2h0M472.7 303.5h0M439.4 332.6h0M403.0 290.6h0M497.0 290.7h0M412.8 311.3h0M498.8 348.9h0M408.7 278.1h0M423.1 348.1h0M435.2 302.2h0M463.0 314.3h0M470.4 320.5h0M486.2 257.7h0M416.5 338.1h0M416.9 281.5h0M461.3 341.9h0M417.2 359.0h0M488.9 282.9h0M460.7 271.6h0M485.2 289.3h0M480.4 324.0h0M410.5 306.2h0M453.0 327.8h0M462.0 341.0h0M489.9 344.6h0M469.0 308.4h0M448.1 281.6h0M451.0 263.0h0M395.8 323.0h0M477.8 336.8h0M480.0 297.0h0M477.5 352.6h0M504.7 315.9h0M489.7 311.0h0M482.6 322.0h0M394.5 317.4h0M492.2 264.8h0M419.3 254.6h0M447.5 290.5h0M450.0 289.0h0M466.0 327.7h0M461.6 296.9h0M465.7 270.0h0M459.4 308.3h0M416.9 289.6h0M479.8 310.8h0M486.7 312.7h0M425.3 293.4h0M465.6 341.4h0M456.9 262.7h0M504.1 248.3h0M452.8 273.1h0M475.3 307.8h0M505.9 324.4h0M442.6 263.0h0M495.0 281.9h0M399.9 296.5h0M395.7 358.3h0M440.4 286.5h0M460.6 304.3h0M449.6 287.3h0M421.2 311.9h0M446.4 307.7h0M473.9 284.2h0M450.0 303.4h0M423.9 322.5h0M490.3 282.1h0M431.4 294.6h0M471.4 275.2h0M495.8 287.2h0M400.5 267.5h0M456.4 340.3h0M408.0 281.4h0M441.1 293.3h0M398.6 316.3h0M468.7 266.1h0" stroke="#ac8ccc" stroke-width="2.42" stroke-linecap="round" opacity="0.6" fill="none"/><path d="M491.0 286.7h0M491.2 295.8h0M493.9 272.0h0M488.4 288.7h0M490.3 258.2h0M483.1 255.7h0M488.0 251.1h0M494.5 256.5h0M495.1 297.3h0M494.2 320.9h0M484.0 277.9h0M490.4 272.6h0M495.7 300.1h0M489.0 284.8h0M490.6 252.3h0M487.9 259.8h0M483.7 270.3h0M483.3 294.7h0M496.2 259.7h0M495.1 298.2h0M486.2 267.4h0M496.9 263.6h0M494.9 278.4h0M492.0 294.1h0M485.5 251.0h0M494.6 297.9h0M496.0 269.9h0M484.9 277.7h0M489.6 253.5h0M491.5 255.1h0M486.8 304.2h0M493.2 275.0h0M490.2 254.6h0M494.8 271.5h0M495.3 281.6h0M490.8 264.9h0M495.2 300.8h0M488.3 263.1h0M488.6 275.8h0M483.5 290.0h0M485.7 293.3h0M491.9 250.3h0M496.6 286.7h0M494.8 253.0h0M488.4 281.1h0M490.5 264.6h0M493.7 275.8h0M487.0 288.0h0M486.1 277.7h0M490.1 266.2h0M488.1 265.3h0M492.4 269.6h0M488.3 319.1h0M492.8 266.2h0M486.0 270.1h0M485.3 287.2h0M497.8 294.2h0" stroke="#cc4aa4" stroke-width="1.76" stroke-linecap="round" opacity="0.55" fill="none"/><path d="M483.3 285.9h0M488.5 294.2h0M497.4 281.0h0M495.3 282.7h0M483.3 293.6h0M493.3 258.8h0M493.3 274.3h0M484.6 276.0h0M482.4 264.6h0M492.2 306.2h0M497.4 272.2h0M485.4 319.1h0M490.3 292.8h0M490.4 260.1h0M494.1 257.3h0M484.0 291.9h0M489.0 253.9h0M485.3 264.9h0M487.2 314.7h0M484.7 287.9h0M492.2 317.4h0M486.0 261.4h0M490.0 319.1h0M495.3 292.0h0M489.5 289.9h0M495.4 280.1h0M488.9 309.3h0M488.6 293.9h0M483.9 256.5h0M484.4 255.6h0M495.8 300.8h0M485.0 272.9h0M490.6 298.0h0M489.2 277.1h0M491.7 257.9h0M487.3 315.3h0M492.6 258.9h0M493.9 254.4h0M494.5 266.9h0M483.8 284.1h0M483.7 274.0h0M496.6 290.9h0M495.5 254.3h0M492.9 266.7h0M494.2 275.6h0M489.2 302.0h0M488.5 318.7h0M483.8 301.3h0M485.3 293.3h0M493.5 276.2h0M494.9 288.9h0M490.2 264.9h0M494.2 270.5h0M483.3 265.0h0M485.6 269.1h0M483.7 282.5h0" stroke="#cc4aa4" stroke-width="2.31" stroke-linecap="round" opacity="0.55" fill="none"/><path d="M490.4 302.8h0M491.8 275.9h0M486.1 302.9h0M495.2 258.3h0M496.9 261.8h0M493.5 299.0h0M491.1 293.3h0M491.9 300.6h0M489.7 302.4h0M496.2 288.7h0M496.1 298.2h0M490.4 249.5h0M492.3 304.8h0M487.6 252.0h0M492.5 283.1h0M488.8 290.7h0M487.9 320.0h0M489.8 304.3h0M487.7 267.2h0M484.3 313.7h0M491.6 281.2h0M494.9 321.8h0M486.6 287.6h0M497.2 272.6h0M492.0 282.0h0M490.4 277.4h0M494.0 298.0h0M485.1 299.2h0M495.8 266.6h0M488.1 306.4h0M488.3 268.5h0M491.4 253.0h0M489.4 282.9h0M490.0 304.1h0M497.2 270.7h0M495.7 300.4h0M497.1 296.7h0M492.1 294.8h0M489.7 298.8h0M490.4 279.9h0M486.1 284.5h0M493.4 274.0h0M497.2 264.1h0M484.7 265.5h0M485.4 306.4h0M489.7 306.3h0M482.3 259.6h0M490.8 286.0h0M487.4 262.9h0M488.0 291.5h0M492.9 299.2h0M495.6 319.6h0M492.6 253.6h0M491.9 260.2h0M490.1 301.3h0M497.1 300.0h0M490.7 317.6h0" stroke="#cc4aa4" stroke-width="2.86" stroke-linecap="round" opacity="0.55" fill="none"/></g><g filter="url(#b12)"><circle cx="450" cy="274.4" r="2.6" fill="#7a4a5a"/><circle cx="439.4" cy="285" r="2.2" fill="#6a6098"/><circle cx="431" cy="297" r="2" fill="#7a70a8"/><circle cx="468" cy="280.4" r="2.6" fill="#7a70b0"/><circle cx="433.5" cy="312.5" r="2" fill="#5a3a5a"/><circle cx="437" cy="323" r="2" fill="#8a80b8"/><circle cx="474" cy="312.5" r="2" fill="#9a78b8"/><circle cx="490.6" cy="322" r="2" fill="#9a80c0"/><circle cx="497.8" cy="328" r="1.8" fill="#a0a0d0"/><circle cx="418" cy="283" r="1.6" fill="#9a6ab0"/><circle cx="406" cy="270" r="1.5" fill="#a070b0"/></g></g><rect x="393.5" y="247.6" width="122.5" height="113" fill="none" stroke="#3a3040" stroke-width="1.3"/>
<defs><clipPath id="c2"><rect x="393.5" y="369.7" width="122.5" height="113.4"/></clipPath></defs><g clip-path="url(#c2)"><rect x="393.5" y="369.7" width="122.5" height="113.4" fill="#eecce8"/><g filter="url(#b3)"><rect x="506" y="365" width="14" height="125" fill="#f4eef9"/><rect x="393" y="381" width="8" height="20" fill="#ecdcf2"/></g><g filter="url(#b07)"><path d="M490.6 378.7h0M501.5 436.6h0M416.2 375.3h0M445.8 380.0h0M446.4 415.4h0M456.2 415.1h0M504.9 441.1h0M459.1 460.0h0M473.8 381.2h0M494.9 474.1h0M466.6 449.1h0M420.0 398.6h0M424.0 395.9h0M511.3 405.9h0M467.4 374.5h0M497.2 396.2h0M394.6 412.8h0M437.9 465.9h0M416.8 415.7h0M440.9 444.1h0M404.0 474.1h0M476.7 370.1h0M407.3 472.6h0M413.1 402.0h0M456.5 394.4h0M452.4 460.6h0M464.9 421.7h0M437.7 402.1h0M407.6 465.3h0M425.6 468.2h0M472.3 400.4h0M449.9 461.2h0M464.6 395.5h0M455.8 473.8h0M439.1 443.3h0M405.8 411.7h0M478.0 430.7h0M396.9 424.2h0M418.3 415.5h0M431.5 433.0h0M457.9 470.0h0M419.4 453.0h0M495.1 383.1h0M471.7 478.0h0M410.2 385.0h0M505.0 392.3h0M429.4 383.3h0M453.1 422.3h0M441.3 397.8h0M405.5 387.6h0M423.2 423.7h0M485.5 451.7h0M452.8 477.2h0M499.9 415.6h0M440.3 481.3h0M457.5 375.1h0M456.6 384.5h0M431.6 467.6h0M484.0 467.8h0M421.6 435.1h0M475.9 398.0h0M430.0 427.8h0M473.7 458.7h0M429.3 387.7h0M430.9 471.4h0M470.8 412.5h0M445.7 439.6h0M448.3 402.6h0M398.4 441.6h0M421.4 426.8h0M398.8 467.7h0M472.5 420.0h0M510.1 427.5h0M498.6 387.3h0M401.8 397.3h0M474.8 443.8h0M501.9 472.2h0M450.1 450.5h0M430.0 370.4h0M425.0 411.5h0M482.2 457.7h0M433.6 443.3h0M423.7 452.5h0M457.7 455.8h0M414.1 449.0h0M410.2 430.6h0M491.5 412.2h0M396.1 403.2h0M444.5 404.4h0M513.2 440.6h0M397.3 433.3h0M443.9 456.4h0M492.7 457.6h0M404.7 382.5h0M501.3 397.5h0M426.5 478.2h0M440.2 399.9h0M397.8 404.8h0M444.9 464.5h0M472.5 372.8h0M446.7 428.2h0M504.1 435.4h0M478.8 408.9h0M450.8 446.0h0M479.3 391.7h0M472.7 430.5h0M486.9 422.1h0M479.1 438.6h0M500.1 387.8h0M468.7 481.2h0M395.3 406.2h0M435.6 413.5h0M470.2 477.0h0M449.9 443.6h0M475.5 422.1h0M439.4 444.6h0M423.9 379.0h0M424.1 416.1h0M484.8 465.1h0M502.5 461.7h0M400.5 390.1h0M399.8 431.9h0M407.1 422.6h0M408.7 398.4h0M479.1 443.1h0M462.6 382.3h0M446.7 444.2h0M465.2 468.5h0M455.6 426.4h0M467.7 428.3h0M460.9 436.7h0M402.4 387.6h0M464.9 439.8h0M440.6 388.5h0M493.6 400.3h0M412.2 453.1h0M477.0 379.8h0M419.5 452.7h0M456.8 460.6h0M469.7 427.3h0M458.8 465.2h0M501.9 406.1h0M488.9 471.2h0M488.9 421.5h0M429.9 373.7h0M495.5 443.2h0M439.4 430.0h0M405.8 450.3h0M421.8 467.0h0M417.1 441.6h0M460.1 437.2h0M493.8 403.9h0M405.0 375.3h0M468.5 480.1h0M474.6 376.7h0M477.2 373.1h0M477.9 402.9h0M436.2 397.6h0M476.9 461.3h0M476.7 405.1h0M481.8 417.9h0M465.7 369.8h0M481.2 436.0h0M436.7 384.7h0M498.3 413.4h0M425.7 433.8h0M452.1 481.1h0M465.8 392.7h0M413.3 467.2h0M502.6 469.0h0M505.0 460.2h0M486.3 433.4h0M397.5 394.4h0M487.8 383.1h0M424.8 455.1h0M434.5 402.5h0M491.1 406.1h0M414.1 452.9h0M426.0 420.6h0M469.2 378.9h0M502.3 452.5h0M419.0 467.3h0M502.6 475.6h0M495.4 421.1h0M445.6 466.5h0M444.4 433.0h0M418.7 371.4h0M418.5 450.4h0M416.5 448.2h0M481.3 451.0h0M455.3 387.4h0M423.0 405.2h0M399.7 396.2h0M467.0 400.9h0M435.6 466.5h0M407.9 417.6h0M456.7 375.8h0M407.1 393.2h0M402.9 455.9h0M481.4 381.9h0M472.8 379.9h0M432.3 457.9h0M398.4 415.5h0M459.9 439.1h0M498.9 404.7h0M463.1 473.4h0M501.8 451.5h0M475.3 398.2h0M394.8 476.2h0M423.7 449.7h0M419.6 428.4h0M395.7 472.1h0M499.5 405.7h0M472.3 427.8h0M476.9 370.1h0M427.3 479.7h0M434.3 446.7h0M452.5 410.7h0M436.3 412.2h0M498.4 482.9h0M419.1 445.2h0M417.5 478.8h0M428.2 456.5h0M501.6 464.9h0M433.9 458.9h0M421.1 473.9h0M478.5 406.2h0M422.6 402.2h0M424.0 377.1h0M445.6 380.9h0M421.1 443.9h0M483.6 482.0h0M398.1 442.8h0M465.9 375.6h0M487.1 405.3h0M504.2 422.8h0M469.2 453.0h0M415.5 420.0h0M418.8 453.3h0M417.6 458.2h0M436.6 477.9h0M395.6 403.7h0M447.9 408.4h0M437.4 389.8h0M491.4 452.6h0M490.2 449.0h0M445.8 454.6h0M433.6 444.4h0M409.5 375.0h0M427.6 395.9h0M434.4 394.4h0M418.8 420.8h0M440.4 399.2h0M433.2 472.6h0M487.2 480.4h0M469.1 379.0h0M429.8 456.0h0M397.6 392.9h0M491.2 402.5h0M475.2 457.5h0M437.8 374.9h0M450.6 460.4h0M490.5 383.5h0M497.6 446.1h0M481.0 433.0h0M501.0 391.7h0M503.3 457.9h0M504.4 406.2h0M428.2 474.7h0M490.0 408.2h0M398.6 396.6h0M420.7 420.9h0M417.7 393.3h0M470.9 384.6h0M422.0 431.3h0M502.8 407.4h0M460.9 461.0h0M465.9 481.8h0M409.2 424.8h0M425.0 451.2h0M462.8 436.0h0M443.8 449.1h0M478.5 442.2h0M480.4 428.8h0M404.1 397.1h0M409.0 400.1h0M494.6 419.7h0M394.7 382.1h0M403.7 388.9h0M485.1 461.1h0M418.3 381.8h0M460.7 439.6h0M410.7 405.7h0M439.4 414.9h0M505.5 442.1h0M414.1 441.7h0M438.1 438.9h0M485.0 459.7h0M494.0 402.4h0M427.2 443.2h0M420.1 450.6h0M484.3 419.9h0M396.7 406.4h0M410.4 441.0h0M484.3 370.8h0M498.2 407.1h0M421.2 473.6h0M465.9 426.3h0M408.6 405.0h0M485.1 440.9h0M453.8 417.2h0M448.9 432.8h0M420.1 469.2h0M479.5 400.1h0M404.5 472.3h0M479.3 453.2h0M466.7 452.8h0M505.6 436.0h0M443.2 407.3h0M495.8 470.0h0M486.5 384.1h0M426.3 379.6h0M438.0 472.6h0M500.8 371.9h0M412.8 439.6h0M401.1 404.8h0M404.1 464.5h0M493.0 451.0h0M469.5 379.3h0M411.4 419.4h0M449.3 443.1h0M395.5 433.2h0M436.0 423.0h0M434.0 375.9h0M397.6 404.4h0M467.9 384.3h0M496.3 373.1h0M430.7 370.9h0M410.6 448.2h0M468.7 473.2h0M453.6 405.1h0M398.3 408.3h0M464.3 435.6h0M423.4 399.8h0M402.6 463.1h0M452.2 387.8h0M447.5 435.2h0M482.2 410.1h0M501.7 434.6h0M399.5 477.0h0M404.9 385.8h0M503.9 473.5h0M492.2 396.0h0M441.7 437.8h0M411.3 463.4h0M500.8 446.6h0M437.7 450.1h0M455.4 386.8h0M463.6 388.6h0M477.3 374.1h0M485.0 425.0h0M496.0 454.7h0M453.9 467.4h0M417.0 398.4h0M444.9 430.8h0M478.7 395.3h0M485.4 461.8h0M427.5 405.6h0M465.9 390.5h0M501.5 421.3h0M453.6 395.6h0M457.2 382.9h0M414.8 376.3h0M478.4 461.0h0M441.1 421.9h0M412.5 482.5h0M487.5 446.4h0M398.3 431.5h0M404.0 413.0h0M477.1 401.6h0M503.1 432.8h0M459.1 371.9h0M477.3 381.6h0M472.2 430.8h0M444.7 411.5h0M446.9 413.4h0M393.8 374.8h0M445.1 444.7h0M488.7 443.5h0M399.2 428.2h0M463.8 376.3h0M411.0 383.7h0M497.8 423.7h0M466.7 414.4h0M484.0 386.8h0M471.8 384.6h0M448.3 468.6h0M491.7 423.7h0M424.9 449.8h0M432.5 402.2h0M436.8 378.4h0M446.8 385.4h0M439.7 454.7h0M469.1 471.1h0M468.4 380.0h0M405.8 375.0h0M472.1 426.9h0M427.6 375.5h0M488.6 463.6h0M412.9 438.0h0M427.8 468.1h0M495.8 461.1h0M498.8 473.1h0M466.5 421.9h0M453.5 446.5h0M395.7 437.3h0M401.9 397.7h0M440.0 473.5h0M437.1 432.1h0M478.0 454.2h0M456.1 392.3h0M396.3 467.3h0M483.7 388.1h0M446.9 480.8h0M431.3 445.1h0M415.2 444.7h0M429.5 382.9h0M465.1 403.2h0M473.7 404.9h0M461.2 477.7h0M454.6 430.5h0M490.4 399.8h0M429.1 457.5h0M407.5 375.5h0M396.6 420.4h0M452.5 470.1h0M405.4 474.3h0M427.8 408.8h0M414.4 434.5h0M440.8 370.0h0M432.4 414.2h0M477.2 390.8h0M461.0 469.8h0M487.5 390.5h0M425.8 418.7h0M442.1 376.3h0M411.6 388.0h0M404.1 453.0h0M453.2 418.6h0M494.9 479.6h0M424.9 381.0h0M484.4 404.6h0M451.8 459.1h0M457.6 403.9h0M454.7 471.2h0M483.1 459.9h0M470.2 390.4h0M427.8 395.5h0M473.9 424.6h0M448.9 452.0h0M502.6 380.8h0M465.6 476.7h0M451.2 380.3h0M470.1 379.5h0M505.1 477.6h0M477.8 400.8h0M459.0 441.1h0M461.2 424.7h0M408.3 440.8h0M502.4 403.2h0M422.1 421.9h0M403.2 446.5h0M450.9 459.1h0M403.5 410.9h0M465.3 382.1h0M429.1 402.4h0M465.8 416.3h0M483.4 481.6h0M497.8 388.2h0M437.6 392.9h0M430.2 453.1h0M425.0 467.4h0M443.1 438.9h0M506.5 402.6h0M476.1 374.0h0M476.6 434.3h0M466.0 435.2h0M407.1 447.3h0M439.1 395.8h0M478.4 402.8h0M441.0 477.6h0M404.2 402.1h0M502.2 473.8h0M492.6 418.6h0M408.9 449.3h0M442.1 466.9h0M412.5 458.9h0M482.2 463.3h0M452.3 371.3h0M410.5 476.4h0M471.2 460.7h0M403.7 465.6h0M407.3 464.1h0M429.6 384.3h0M446.4 448.2h0M482.8 420.6h0M427.1 402.5h0M457.6 450.7h0M505.0 483.0h0M446.1 468.3h0M414.8 376.4h0M443.3 434.4h0M410.8 375.3h0M496.1 445.7h0M481.9 450.5h0M501.0 420.8h0M504.4 451.8h0M465.5 445.1h0M434.0 418.5h0M395.2 465.1h0M423.6 427.5h0M455.2 456.0h0M473.3 446.7h0M498.0 415.9h0M460.0 453.2h0M483.9 470.1h0M440.0 377.9h0M457.1 464.1h0M408.2 390.6h0M476.1 476.5h0M416.4 370.4h0M500.4 473.4h0M449.9 422.6h0M455.8 411.4h0M439.5 462.3h0M394.9 412.3h0M455.6 465.1h0M424.2 454.7h0M465.4 454.4h0M441.1 441.0h0M484.7 440.7h0M498.7 461.4h0M410.0 405.7h0M438.5 412.4h0M447.0 403.6h0M417.6 449.0h0M441.8 414.2h0M435.4 411.1h0M423.3 379.7h0M489.4 395.2h0M453.4 469.2h0M402.9 438.1h0M454.9 417.3h0M473.6 426.9h0" stroke="#d07ab8" stroke-width="1.65" stroke-linecap="round" opacity="0.72" fill="none"/><path d="M510.9 385.6h0M416.1 383.4h0M433.5 407.7h0M444.9 398.2h0M414.5 431.7h0M425.2 383.2h0M397.5 392.7h0M399.5 447.8h0M427.4 456.9h0M437.8 477.7h0M401.7 389.9h0M399.9 396.3h0M506.9 403.5h0M511.0 412.2h0M485.6 432.8h0M441.8 421.7h0M408.8 456.1h0M459.4 436.2h0M483.9 420.6h0M475.3 420.9h0M467.2 396.9h0M413.8 482.6h0M459.8 474.5h0M435.6 433.2h0M468.6 459.7h0M413.8 371.9h0M445.2 443.0h0M431.1 445.0h0M416.6 414.0h0M485.9 410.8h0M452.5 418.4h0M505.4 447.1h0M486.3 456.5h0M447.7 460.6h0M396.5 404.4h0M405.5 382.4h0M494.0 413.3h0M482.0 478.6h0M426.6 377.9h0M422.3 418.5h0M450.7 443.3h0M404.2 409.8h0M468.1 419.6h0M466.6 437.1h0M406.8 479.1h0M426.5 407.8h0M436.9 395.3h0M465.3 398.7h0M463.5 377.0h0M473.6 456.5h0M442.8 430.6h0M458.7 460.5h0M406.1 379.8h0M446.0 430.3h0M501.7 423.9h0M458.4 379.9h0M436.3 424.0h0M408.8 451.0h0M414.0 434.8h0M492.2 392.9h0M397.3 405.1h0M417.9 418.4h0M412.8 384.5h0M401.6 463.4h0M425.7 452.8h0M457.7 470.5h0M414.9 427.2h0M466.3 463.3h0M418.9 483.0h0M431.8 463.7h0M488.3 417.6h0M401.3 447.0h0M501.4 422.2h0M404.7 405.4h0M474.7 445.5h0M446.4 463.8h0M501.3 392.2h0M415.5 397.9h0M422.4 434.8h0M440.1 402.8h0M421.2 436.3h0M501.3 426.3h0M407.0 416.8h0M499.5 448.5h0M415.8 471.1h0M397.5 423.9h0M451.3 465.5h0M486.0 378.2h0M499.6 452.6h0M485.0 471.3h0M454.7 400.1h0M475.2 370.0h0M478.0 407.2h0M427.2 402.5h0M498.1 479.3h0M418.3 387.3h0M419.0 462.3h0M432.6 469.9h0M478.7 394.0h0M401.8 416.4h0M485.3 402.5h0M478.5 446.9h0M494.8 447.6h0M469.8 374.9h0M478.7 472.6h0M422.1 461.8h0M410.7 455.6h0M424.8 400.5h0M476.5 410.5h0M480.2 478.1h0M433.1 433.5h0M407.4 377.2h0M494.0 386.4h0M421.5 478.8h0M394.1 440.2h0M470.7 375.3h0M395.9 430.2h0M402.6 442.5h0M422.7 387.1h0M405.0 433.9h0M414.9 381.0h0M505.6 372.5h0M424.4 465.3h0M406.7 373.5h0M473.0 404.9h0M425.0 445.2h0M452.6 389.9h0M421.9 415.1h0M424.7 399.3h0M501.6 440.5h0M494.5 390.0h0M413.8 381.8h0M499.7 438.8h0M469.4 471.3h0M473.2 423.4h0M487.7 383.0h0M476.6 388.9h0M419.1 463.7h0M494.3 458.2h0M415.7 477.6h0M454.2 381.8h0M454.6 476.0h0M491.1 427.7h0M485.1 412.4h0M435.1 465.9h0M410.2 454.2h0M435.4 431.9h0M492.5 421.5h0M413.9 433.1h0M396.1 407.8h0M496.8 385.5h0M443.9 442.2h0M487.0 460.1h0M437.9 419.3h0M433.2 410.1h0M399.6 409.3h0M403.5 442.6h0M499.7 416.2h0M426.9 441.1h0M422.7 462.0h0M410.9 397.3h0M488.2 377.2h0M446.7 405.7h0M479.3 405.6h0M440.5 475.8h0M396.4 427.4h0M468.4 377.1h0M402.2 369.9h0M447.4 402.8h0M511.5 416.0h0M429.5 382.1h0M441.6 480.8h0M482.9 422.6h0M411.0 407.3h0M502.9 420.0h0M471.1 444.3h0M480.9 483.0h0M491.1 378.6h0M484.5 402.5h0M419.9 404.5h0M458.4 410.7h0M446.1 430.5h0M471.4 415.2h0M486.0 431.7h0M399.0 462.2h0M400.2 414.6h0M481.6 423.3h0M404.1 421.6h0M407.2 411.3h0M419.8 376.0h0M446.9 421.5h0M461.0 406.9h0M505.6 429.2h0M447.9 454.3h0M431.2 480.5h0M502.9 449.2h0M487.0 418.1h0M444.1 450.0h0M423.6 455.2h0M459.0 456.6h0M417.2 404.8h0M423.2 375.2h0M443.8 413.4h0M440.9 424.5h0M459.0 381.5h0M465.9 436.1h0M435.8 426.5h0M429.0 471.8h0M416.6 458.4h0M498.7 419.6h0M500.5 480.0h0M395.7 423.7h0M437.3 438.9h0M474.6 421.1h0M399.6 464.2h0M468.1 438.8h0M458.1 373.5h0M436.5 452.8h0M399.2 437.8h0M469.1 431.2h0M479.9 457.7h0M463.0 474.8h0M446.2 455.8h0M504.6 450.8h0M397.8 448.1h0M414.2 482.7h0M433.5 458.0h0M471.0 476.6h0M423.8 406.7h0M401.6 415.7h0M398.2 447.8h0M423.9 388.1h0M505.1 440.8h0M428.8 440.3h0M478.7 461.2h0M455.8 390.9h0M477.5 457.5h0M435.2 385.8h0M489.1 436.6h0M433.9 429.2h0M397.3 476.9h0M499.6 437.9h0M412.3 390.8h0M447.5 482.2h0M444.2 459.3h0M491.6 395.4h0M409.8 401.8h0M467.3 374.3h0M484.0 428.8h0M447.2 455.3h0M497.1 442.8h0M490.3 376.3h0M484.3 376.2h0M502.6 452.4h0M396.3 476.1h0M500.4 402.2h0M430.9 405.1h0M450.2 458.9h0M465.2 429.5h0M468.5 394.6h0M464.4 471.3h0M454.0 392.3h0M453.0 426.3h0M496.4 426.3h0M481.9 436.7h0M410.1 411.3h0M397.8 452.1h0M424.7 401.8h0M449.8 482.9h0M467.5 471.0h0M415.6 397.8h0M459.8 398.6h0M503.8 402.1h0M417.2 462.5h0M493.5 409.2h0M455.4 478.1h0M422.8 369.9h0M405.8 443.3h0M504.0 442.7h0M397.2 464.5h0M408.2 419.8h0M483.0 477.5h0M436.0 417.3h0M478.2 461.5h0M415.0 410.9h0M429.1 384.5h0M443.2 387.0h0M458.1 394.4h0M502.0 456.2h0M494.7 455.6h0M500.3 453.3h0M410.5 415.0h0M448.0 464.3h0M399.3 404.6h0M430.2 436.7h0M400.6 464.3h0M460.8 394.2h0M464.9 402.3h0M428.9 386.6h0M422.3 462.3h0M459.0 421.4h0M454.3 393.9h0M452.0 456.3h0M494.4 376.1h0M395.8 479.6h0M471.5 370.9h0M444.8 412.0h0M414.1 456.6h0M495.1 479.6h0M463.0 446.2h0M394.0 468.0h0M482.0 371.7h0M470.1 432.2h0M460.9 471.7h0M401.5 422.4h0M443.6 379.6h0M432.9 386.6h0M413.9 470.9h0M416.3 372.8h0M483.4 446.9h0M484.3 432.2h0M472.5 412.6h0M408.6 403.7h0M469.4 440.1h0M403.5 399.1h0M407.8 479.6h0M465.6 414.1h0M393.8 482.9h0M493.4 465.0h0M463.9 371.5h0M473.0 422.7h0M403.6 421.6h0M481.2 394.6h0M430.1 428.7h0M432.9 459.8h0M438.3 429.1h0M502.8 404.9h0M485.3 377.8h0M429.6 432.2h0M495.1 436.8h0M415.4 372.1h0M486.1 466.5h0M408.5 441.4h0M450.8 477.0h0M442.1 413.8h0M404.0 423.6h0M473.6 444.1h0M416.7 443.3h0M446.5 401.1h0M495.3 412.7h0M487.8 379.9h0M412.8 480.2h0M398.0 467.5h0M458.8 415.5h0M444.2 423.3h0M473.2 473.7h0M482.8 419.3h0M498.9 456.4h0M402.3 475.0h0M404.9 466.5h0M483.9 381.8h0M462.6 410.0h0M393.7 477.9h0M489.4 417.8h0M403.3 436.3h0M455.5 370.5h0M482.2 390.9h0M402.3 480.6h0M420.6 393.4h0M474.6 429.2h0M420.1 481.3h0M505.8 406.5h0M426.1 384.8h0M419.5 449.7h0M411.0 415.7h0M485.9 413.1h0M417.7 460.0h0M422.4 395.0h0M454.7 377.6h0M395.9 445.8h0M467.7 456.0h0M393.6 397.4h0M488.2 454.6h0M399.0 434.6h0M395.0 389.3h0M393.7 432.3h0M428.0 374.1h0M500.4 471.4h0M415.6 418.0h0M472.0 382.9h0M444.1 431.6h0M440.9 464.3h0M437.1 472.2h0M505.3 467.1h0M398.4 434.7h0M428.3 371.5h0M500.8 452.2h0M452.1 397.8h0M404.7 476.3h0M505.9 425.2h0M468.8 396.6h0M456.3 399.4h0M407.3 401.0h0M423.8 410.8h0M458.0 433.6h0M476.9 377.3h0M493.7 438.2h0M492.4 413.1h0M430.5 371.1h0M504.9 463.8h0M473.1 373.2h0M478.2 455.1h0M422.5 384.6h0M455.3 445.8h0M488.9 467.4h0M487.7 441.7h0M492.7 434.6h0M418.1 461.5h0M430.5 471.7h0M442.9 403.2h0M446.2 482.9h0M418.6 409.8h0M420.6 419.5h0M429.8 380.7h0M459.1 405.2h0M492.4 426.2h0M463.4 441.0h0M437.5 403.8h0M462.3 479.2h0M458.7 434.4h0M397.7 385.8h0M463.7 416.2h0M443.0 407.2h0M489.4 466.1h0M444.7 481.2h0M421.6 458.4h0M416.3 405.1h0M436.7 399.6h0M459.0 397.8h0M412.5 394.1h0M403.6 464.0h0M487.3 462.5h0M484.4 453.8h0M403.5 419.3h0M405.1 433.2h0M414.0 429.4h0M405.2 462.4h0M468.4 415.2h0M460.3 450.1h0M505.6 431.7h0M503.7 427.6h0M492.3 427.2h0M401.3 377.8h0M423.2 434.7h0M499.8 454.3h0M505.1 433.3h0M478.7 452.4h0M488.4 448.9h0M404.7 391.6h0M457.9 439.0h0M441.3 456.4h0M397.9 478.0h0M421.4 466.9h0M420.8 443.0h0M497.0 482.7h0M499.2 415.5h0M489.0 450.1h0M515.1 433.3h0M418.4 395.6h0M433.9 383.8h0M486.6 432.6h0M442.4 401.1h0M429.1 425.9h0M483.4 455.6h0M505.7 462.1h0M466.6 467.7h0M500.4 448.0h0M463.0 382.0h0M396.8 388.7h0M449.0 477.6h0M445.2 432.2h0M505.5 440.5h0M400.1 387.1h0M479.1 395.5h0M406.6 468.2h0M475.3 425.6h0M440.4 446.3h0M454.6 454.9h0M410.7 471.8h0M497.1 403.1h0M439.5 474.5h0M505.6 404.7h0M426.7 420.5h0M500.8 387.7h0M399.8 465.3h0M513.8 422.2h0M421.0 451.7h0M503.1 459.7h0M419.4 383.7h0M424.6 393.5h0M437.0 430.1h0M473.0 383.1h0M429.4 371.0h0M443.3 412.9h0M414.8 441.0h0M483.0 462.6h0M450.9 406.5h0M426.1 402.1h0M413.4 429.5h0M441.4 447.5h0M436.0 374.5h0M397.1 461.8h0M415.0 457.1h0M483.6 414.9h0M396.2 444.2h0M396.4 419.3h0M460.3 439.2h0M440.8 465.9h0M396.8 472.9h0M428.5 439.5h0M410.5 472.2h0M434.7 481.1h0M406.8 481.3h0M492.8 416.9h0M439.7 469.7h0M433.3 426.7h0M490.3 444.4h0M467.3 388.3h0M426.2 450.3h0" stroke="#d07ab8" stroke-width="2.20" stroke-linecap="round" opacity="0.72" fill="none"/><path d="M432.6 437.9h0M483.3 418.5h0M415.6 382.4h0M488.3 478.7h0M431.8 458.3h0M456.6 401.4h0M442.2 474.5h0M439.3 435.8h0M462.3 429.5h0M454.6 429.1h0M484.6 423.3h0M481.0 478.0h0M471.2 408.3h0M396.4 455.0h0M418.9 408.7h0M495.7 374.0h0M437.0 399.1h0M497.1 477.9h0M425.3 429.3h0M454.2 426.4h0M456.9 479.6h0M487.6 372.2h0M399.8 441.4h0M504.9 416.4h0M460.8 406.2h0M493.1 404.5h0M476.2 393.1h0M420.1 423.3h0M455.2 443.6h0M481.0 448.5h0M447.9 420.8h0M432.9 465.8h0M399.7 383.7h0M498.3 479.7h0M448.9 413.3h0M411.9 444.3h0M468.9 445.5h0M432.6 384.7h0M421.4 375.4h0M484.3 372.1h0M399.0 387.7h0M422.0 384.1h0M512.8 374.9h0M440.8 409.9h0M490.8 416.5h0M430.0 401.2h0M482.7 478.0h0M486.1 417.3h0M456.0 436.0h0M459.2 389.5h0M429.5 446.1h0M407.0 429.0h0M494.5 435.9h0M500.9 429.6h0M478.9 453.4h0M471.5 404.1h0M474.7 442.8h0M503.6 424.9h0M432.7 383.6h0M413.7 424.4h0M446.8 396.1h0M397.3 439.2h0M457.0 464.9h0M496.7 389.8h0M458.5 441.3h0M454.2 391.4h0M507.9 372.0h0M407.9 440.9h0M429.3 369.8h0M468.9 475.9h0M498.0 475.2h0M493.6 430.3h0M469.7 399.8h0M436.3 472.2h0M502.1 442.4h0M422.2 375.4h0M439.6 383.7h0M478.7 482.9h0M433.8 439.8h0M398.0 372.3h0M393.5 441.5h0M448.5 375.1h0M397.0 401.9h0M403.2 411.0h0M401.2 378.5h0M472.9 384.3h0M446.1 379.2h0M481.8 370.8h0M501.1 442.6h0M493.4 413.1h0M425.4 471.8h0M502.7 482.3h0M490.5 370.0h0M505.0 468.4h0M454.6 374.8h0M447.2 384.9h0M401.5 387.7h0M498.3 408.1h0M416.8 404.5h0M465.3 461.0h0M503.1 385.8h0M451.6 379.4h0M480.2 454.6h0M499.0 466.6h0M445.6 417.2h0M475.3 458.6h0M499.1 412.9h0M512.0 421.8h0M411.7 439.6h0M462.6 451.8h0M393.6 475.2h0M494.4 462.4h0M448.0 426.0h0M459.1 400.1h0M406.7 471.9h0M429.2 421.1h0M435.9 414.4h0M447.7 412.5h0M502.6 437.5h0M453.5 413.1h0M397.6 463.6h0M410.7 437.0h0M464.5 432.8h0M471.6 465.3h0M444.4 455.6h0M427.1 441.6h0M395.8 413.0h0M420.4 453.1h0M503.3 470.8h0M489.2 437.8h0M393.8 405.7h0M489.9 424.6h0M494.0 454.5h0M466.0 452.1h0M452.2 476.9h0M471.1 436.8h0M447.8 482.0h0M501.0 421.1h0M489.5 403.3h0M477.4 465.0h0M495.4 384.4h0M401.0 424.7h0M505.1 385.9h0M420.3 428.0h0M469.2 400.3h0M471.5 392.8h0M397.9 418.7h0M474.8 424.4h0M417.6 380.2h0M494.7 461.1h0M426.1 408.5h0M491.1 390.6h0M456.8 389.5h0M448.7 400.9h0M405.6 453.0h0M501.9 458.8h0M406.7 467.3h0M451.8 460.7h0M490.3 417.8h0M416.8 384.6h0M432.7 414.4h0M439.1 400.7h0M496.2 448.9h0M492.8 467.5h0M495.0 384.9h0M459.8 452.6h0M399.0 446.6h0M499.4 387.1h0M446.2 404.1h0M435.7 414.8h0M434.3 393.9h0M414.5 402.1h0M451.7 460.6h0M445.2 413.3h0M405.2 403.2h0M398.1 407.3h0M467.4 426.2h0M410.4 482.5h0M453.1 414.0h0M410.6 440.7h0M424.1 414.0h0M469.4 395.8h0M424.8 431.7h0M475.3 424.5h0M420.5 435.5h0M480.9 389.0h0M505.6 455.1h0M419.9 379.5h0M401.8 423.5h0M440.6 447.5h0M407.1 396.3h0M499.1 372.0h0M470.7 425.0h0M413.8 382.5h0M465.7 378.3h0M444.5 482.6h0M437.5 463.0h0M470.1 381.7h0M493.2 441.2h0M410.9 461.8h0M428.6 465.6h0M400.3 481.2h0M432.2 378.6h0M460.0 459.8h0M502.9 377.5h0M453.3 431.1h0M400.4 435.7h0M400.7 391.9h0M461.1 397.7h0M496.9 448.5h0M487.3 389.1h0M476.0 412.1h0M483.8 389.0h0M494.7 424.7h0M486.4 375.7h0M473.8 443.7h0M487.0 421.0h0M446.0 377.1h0M491.6 391.3h0M409.1 456.7h0M406.9 478.0h0M450.5 468.8h0M478.2 388.6h0M467.8 435.3h0M430.1 444.5h0M394.5 415.0h0M480.4 442.9h0M395.2 380.2h0M428.5 370.4h0M457.7 417.9h0M442.0 460.5h0M446.4 420.5h0M410.5 376.3h0M468.6 446.8h0M458.1 474.9h0M439.6 438.7h0M488.4 481.5h0M396.0 371.9h0M425.3 413.3h0M495.2 454.4h0M435.7 373.6h0M433.7 422.2h0M417.8 462.0h0M403.8 433.5h0M432.7 435.3h0M432.2 423.1h0M469.0 428.9h0M475.3 448.4h0M414.0 418.5h0M473.2 398.4h0M408.5 389.1h0M406.2 480.6h0M491.1 459.6h0M444.7 392.1h0M457.3 397.2h0M433.8 480.7h0M416.6 391.3h0M446.6 443.0h0M440.4 400.2h0M466.7 382.6h0M464.5 442.9h0M414.9 460.3h0M456.9 421.3h0M494.1 439.1h0M500.4 465.7h0M401.4 420.0h0M448.1 384.4h0M467.7 408.6h0M504.8 420.4h0M503.7 399.2h0M459.6 412.8h0M494.2 453.2h0M394.3 426.5h0M432.1 452.7h0M481.3 376.7h0M504.5 462.7h0M437.9 387.9h0M484.2 440.7h0M494.5 424.7h0M420.7 439.7h0M428.7 411.9h0M422.9 402.2h0M461.3 422.8h0M411.3 370.1h0M451.5 403.8h0M394.7 430.6h0M421.8 452.6h0M400.6 397.9h0M470.5 424.3h0M439.1 417.6h0M430.2 447.1h0M445.4 457.8h0M472.5 417.1h0M507.0 381.6h0M460.1 442.2h0M412.9 407.1h0M465.9 444.1h0M396.6 390.0h0M405.3 429.9h0M450.3 440.2h0M488.2 378.8h0M396.9 417.0h0M411.4 391.4h0M424.3 464.3h0M464.3 387.5h0M456.1 380.0h0M452.3 430.2h0M416.6 469.9h0M460.6 398.7h0M410.7 439.2h0M490.2 397.4h0M442.4 446.0h0M411.7 452.0h0M438.5 389.7h0M438.8 394.0h0M415.7 371.6h0M439.4 433.8h0M492.5 442.0h0M452.0 483.0h0M465.2 391.9h0M424.2 379.4h0M422.9 459.7h0M501.8 480.3h0M510.7 443.0h0M415.6 457.2h0M416.4 420.3h0M501.1 449.7h0M480.7 478.3h0M463.2 434.1h0M447.9 463.5h0M482.7 387.4h0M505.9 441.4h0M458.4 451.8h0M455.4 429.1h0M485.6 411.9h0M511.1 481.9h0M464.2 436.7h0M491.9 382.7h0M429.5 447.5h0M503.4 474.6h0M462.4 393.8h0M430.1 447.7h0M502.8 428.5h0M425.0 402.2h0M406.0 482.8h0M396.5 456.2h0M409.0 430.3h0M424.2 430.3h0M489.7 462.9h0M413.1 391.2h0M489.8 472.7h0M476.4 395.8h0M442.4 412.4h0M437.6 410.3h0M484.1 396.8h0M429.8 413.8h0M491.8 481.5h0M487.2 455.1h0M496.4 424.2h0M490.7 392.6h0M447.6 378.0h0M403.9 390.0h0M452.4 439.5h0M435.2 454.8h0M441.4 395.7h0M440.9 480.6h0M428.4 406.1h0M404.0 471.6h0M433.0 404.2h0M408.1 389.9h0M394.0 468.7h0M473.0 478.7h0M404.0 478.9h0M477.0 457.1h0M489.3 471.1h0M415.5 474.4h0M467.1 369.8h0M487.3 380.6h0M461.1 430.3h0M395.9 440.5h0M468.9 456.0h0M396.5 475.1h0M423.9 385.0h0M487.2 443.9h0M411.5 418.1h0M397.2 481.0h0M440.5 412.2h0M434.8 385.0h0M443.6 448.9h0M401.1 384.6h0M475.9 420.0h0M407.5 473.0h0M425.5 386.6h0M446.7 416.7h0M440.6 454.5h0M393.7 412.4h0M491.4 457.0h0M457.3 462.7h0M487.6 403.2h0M396.8 391.7h0M514.6 465.2h0M464.0 371.3h0M445.7 408.6h0M499.3 432.4h0M473.1 375.3h0M399.2 379.2h0M394.3 427.1h0M484.5 470.9h0M405.4 373.5h0M432.5 430.4h0M423.2 413.4h0M404.9 417.3h0M483.2 468.6h0M482.1 442.7h0M453.2 376.0h0M501.2 405.3h0M394.6 381.4h0M471.7 465.5h0M484.6 453.5h0M430.1 413.7h0M478.8 384.2h0M418.2 433.2h0M498.7 470.5h0M403.1 455.8h0M422.6 449.1h0M479.8 469.7h0M399.8 376.5h0M395.1 428.8h0M467.8 479.4h0M468.2 376.9h0M399.3 413.2h0M500.8 434.0h0M429.0 433.6h0M442.3 423.1h0M449.3 399.9h0M502.7 440.9h0M420.7 374.1h0M450.6 424.1h0M425.3 419.7h0M441.7 466.0h0M500.7 409.2h0M446.9 432.1h0M484.4 413.8h0M477.1 479.5h0M500.1 445.3h0M477.2 421.7h0M484.9 435.0h0M492.3 440.9h0M417.1 444.7h0M498.2 437.8h0M487.1 476.7h0M487.8 384.6h0M501.0 470.4h0M445.1 407.0h0M418.0 384.5h0M439.5 416.8h0M444.6 432.6h0M462.2 396.8h0M493.5 427.0h0M484.5 468.4h0M424.8 387.7h0M465.0 422.4h0M418.4 423.6h0M471.8 480.7h0M418.6 399.1h0M452.6 430.9h0M505.9 390.9h0M428.8 404.1h0M437.8 395.3h0M397.0 394.9h0M472.8 445.5h0M458.4 392.1h0M395.2 419.5h0M454.5 412.3h0M480.9 370.9h0M406.7 453.2h0M479.4 430.0h0M455.4 394.2h0M422.5 446.9h0M452.0 442.8h0M470.3 369.8h0M493.3 434.6h0M455.5 408.9h0M405.6 447.7h0M404.0 414.3h0M467.7 423.1h0M414.6 451.3h0M477.7 375.8h0M489.2 475.6h0M415.0 433.1h0M478.8 472.5h0M462.1 452.0h0M416.3 417.9h0M441.3 382.2h0M482.2 431.4h0M485.5 390.7h0M479.3 466.2h0M477.5 377.7h0M406.5 404.4h0M437.5 443.2h0M483.6 456.9h0M484.7 395.1h0M426.9 376.3h0M423.7 391.1h0M501.2 429.6h0M468.9 422.0h0M416.0 405.4h0M444.1 388.8h0M470.6 379.0h0M464.6 372.8h0M485.2 470.2h0M467.2 396.0h0M482.0 417.9h0M445.2 472.0h0M404.8 482.5h0M455.8 388.8h0M405.0 428.6h0M489.8 435.7h0M451.8 404.2h0M506.5 410.1h0M484.9 432.1h0M419.9 400.8h0M447.2 475.6h0M397.8 464.7h0M505.7 424.8h0M464.4 474.1h0M499.0 424.6h0M465.9 456.0h0M422.1 452.4h0M446.3 405.8h0M495.8 470.5h0M410.0 393.1h0M501.5 476.9h0M436.4 374.0h0M405.5 447.5h0M504.5 394.6h0M503.1 450.4h0M414.5 369.8h0M480.7 453.5h0M442.5 453.2h0M429.1 430.3h0M438.7 474.2h0M482.1 438.1h0M493.4 374.5h0M445.0 408.8h0M408.4 458.0h0M456.4 482.4h0M404.2 386.7h0M474.0 453.0h0M435.5 467.4h0M420.9 428.1h0M447.6 386.7h0M430.1 435.1h0M398.5 440.9h0M461.9 436.5h0M479.8 472.4h0M398.1 467.5h0M399.7 398.7h0M478.8 455.8h0M400.5 396.5h0M476.7 455.2h0M505.0 480.4h0M453.4 374.9h0M395.7 424.6h0M436.5 374.8h0M448.2 437.5h0M496.4 474.8h0" stroke="#d07ab8" stroke-width="2.75" stroke-linecap="round" opacity="0.72" fill="none"/><path d="M435.6 404.8h0M443.4 429.1h0M450.8 379.5h0M495.6 369.7h0M414.8 429.5h0M443.5 410.9h0M414.1 427.0h0M497.0 378.5h0M486.3 418.2h0M494.4 433.0h0M434.4 446.4h0M496.8 423.3h0M478.0 427.2h0M473.8 420.7h0M465.6 436.4h0M491.9 423.6h0M440.7 460.9h0M454.8 395.2h0M446.1 415.6h0M406.4 451.6h0M458.1 467.4h0M442.4 443.7h0M466.9 433.5h0M451.1 382.7h0M438.3 376.8h0M457.4 380.4h0M405.8 386.2h0M448.2 456.9h0M460.4 468.8h0M482.6 462.3h0M403.3 390.6h0M501.4 413.6h0M401.5 371.6h0M425.8 470.1h0M444.1 395.9h0M422.0 415.0h0M497.9 403.1h0M490.7 373.6h0M433.9 379.5h0M421.5 425.8h0M415.2 448.1h0M408.9 370.5h0M468.9 401.0h0M481.2 470.4h0M449.0 439.5h0M441.2 388.2h0M463.7 413.8h0M476.5 370.5h0M476.7 469.3h0M432.9 471.7h0M399.9 441.0h0M483.5 464.3h0M483.8 379.7h0M504.5 471.1h0M480.1 374.6h0M420.5 392.6h0M433.3 404.4h0M429.9 475.5h0M412.7 468.0h0M486.6 474.1h0M497.1 420.0h0M399.7 482.5h0M422.6 456.4h0M449.8 396.4h0M467.3 441.7h0M410.9 438.3h0M479.6 410.3h0M398.3 383.8h0M498.6 464.7h0M430.2 443.9h0M469.1 398.4h0M429.4 391.1h0M394.0 437.6h0M442.4 456.3h0M394.7 445.0h0M439.2 470.3h0M410.2 382.7h0M475.1 394.4h0M468.1 448.5h0M412.9 441.0h0M492.4 410.3h0M497.8 436.1h0M439.5 379.8h0M408.4 424.9h0M397.4 371.2h0M453.8 458.4h0M418.9 411.2h0M451.1 431.9h0M498.8 451.5h0M407.2 478.5h0M498.1 405.6h0M411.6 386.2h0M422.1 417.3h0M410.9 419.0h0M445.9 446.0h0M455.4 483.1h0M481.3 423.6h0M470.9 372.5h0M446.8 458.5h0M425.4 395.2h0M499.4 412.3h0M395.9 443.5h0M484.4 413.2h0M483.2 408.4h0M430.9 391.3h0M446.3 386.1h0M494.8 467.6h0M473.5 379.7h0M478.3 476.8h0M405.1 413.2h0M422.1 448.5h0M441.0 438.5h0M447.1 433.1h0M439.3 464.0h0M436.5 460.2h0M483.4 459.3h0M496.8 444.2h0M402.1 476.8h0M465.3 400.2h0M513.7 390.4h0M483.3 420.4h0M473.4 418.4h0M499.8 478.7h0M434.5 459.4h0M479.6 404.1h0M503.0 476.4h0M422.0 460.9h0M454.3 405.7h0M404.6 373.3h0M479.8 408.2h0M462.7 379.2h0M427.7 479.5h0M424.4 432.7h0M481.0 395.7h0M436.9 373.3h0M475.5 430.4h0M400.2 430.0h0M492.8 374.3h0M417.2 424.1h0M435.7 396.3h0M438.4 373.4h0M442.5 452.5h0M438.5 442.2h0M414.8 478.6h0M469.7 475.1h0M462.6 436.6h0M410.2 416.6h0M442.0 447.8h0M471.9 473.3h0M499.7 466.6h0M461.5 469.8h0M437.0 431.6h0M418.1 440.9h0M405.3 406.3h0M441.3 372.0h0M501.3 403.9h0M477.6 445.3h0M406.6 468.4h0M427.9 383.1h0M479.0 462.5h0M498.1 381.9h0M497.8 440.9h0M494.8 477.3h0M500.6 429.0h0M433.8 454.0h0M478.0 424.0h0M404.0 474.9h0M393.6 436.2h0M423.2 427.2h0M497.4 464.6h0M398.0 398.9h0M477.8 439.7h0M429.8 406.9h0M495.3 467.0h0" stroke="#b098d0" stroke-width="1.43" stroke-linecap="round" opacity="0.55" fill="none"/><path d="M422.7 461.9h0M486.9 405.1h0M472.4 475.8h0M446.3 388.8h0M472.3 405.2h0M495.8 403.8h0M441.7 386.6h0M496.1 468.1h0M492.8 454.4h0M486.5 445.1h0M505.4 431.9h0M478.5 395.7h0M504.2 472.1h0M441.6 443.9h0M472.6 381.0h0M414.8 405.4h0M422.2 399.3h0M434.5 418.4h0M407.3 412.0h0M485.1 463.4h0M494.6 419.9h0M478.2 448.0h0M487.5 430.9h0M418.3 373.8h0M457.2 400.5h0M469.3 389.3h0M399.0 481.0h0M456.3 377.6h0M475.6 454.7h0M494.7 477.8h0M494.3 423.2h0M502.5 417.4h0M485.7 468.8h0M508.0 434.6h0M493.0 457.2h0M477.5 445.9h0M457.3 439.2h0M398.8 452.4h0M491.5 395.7h0M496.0 457.3h0M462.0 384.3h0M417.4 443.4h0M416.4 429.9h0M488.4 443.1h0M489.9 393.1h0M459.4 370.9h0M452.3 390.8h0M436.5 454.5h0M418.4 389.8h0M422.1 406.4h0M473.0 463.5h0M399.3 466.6h0M423.5 479.0h0M447.9 418.0h0M451.7 435.3h0M418.1 444.4h0M463.5 466.7h0M454.0 439.2h0M470.6 370.8h0M443.8 472.3h0M417.9 434.6h0M428.3 451.1h0M470.0 482.9h0M482.6 410.6h0M498.3 424.3h0M450.6 473.3h0M463.1 437.0h0M474.3 448.4h0M433.9 453.0h0M401.7 432.8h0M405.9 440.4h0M468.7 395.2h0M465.2 410.8h0M398.7 388.0h0M407.2 443.7h0M504.3 420.2h0M414.0 414.2h0M406.4 382.2h0M422.7 421.3h0M444.9 422.8h0M468.2 460.3h0M453.4 448.2h0M394.8 476.5h0M499.0 446.3h0M399.3 393.7h0M423.8 442.0h0M396.6 394.2h0M396.9 438.9h0M416.9 470.2h0M434.0 470.4h0M499.1 411.3h0M437.9 443.3h0M497.1 426.4h0M442.6 461.9h0M409.0 462.6h0M501.1 466.2h0M484.2 433.1h0M410.8 376.5h0M402.9 426.9h0M422.8 452.6h0M395.2 436.4h0M438.8 369.8h0M507.7 432.8h0M430.9 377.1h0M456.1 454.6h0M407.8 463.3h0M476.5 423.2h0M458.3 410.9h0M424.1 374.8h0M412.0 383.0h0M394.8 476.6h0M426.7 386.4h0M405.0 480.4h0M422.2 461.3h0M443.8 371.8h0M406.8 380.7h0M487.8 405.9h0M497.7 392.8h0M489.2 441.0h0M408.2 457.7h0M467.6 472.2h0M503.8 479.1h0M457.3 422.4h0M420.4 442.8h0M427.4 409.7h0M446.5 379.5h0M405.6 413.1h0M487.1 447.5h0M465.5 471.7h0M463.3 446.1h0M426.1 376.1h0M479.1 407.5h0M423.5 476.8h0M466.9 397.8h0M482.7 370.0h0M493.2 413.3h0M457.8 413.4h0M455.7 381.9h0M460.8 412.1h0M473.7 386.5h0M496.7 440.4h0M472.8 399.1h0M444.5 396.3h0M418.2 466.6h0M408.4 378.1h0M421.4 394.3h0M463.3 392.8h0M490.4 423.0h0M463.3 454.4h0M455.1 422.8h0M451.8 432.5h0M431.3 375.8h0M486.6 395.8h0M482.0 455.5h0M459.8 434.1h0M435.9 474.7h0M452.8 403.2h0M406.1 434.2h0M420.2 401.9h0M444.8 462.4h0M455.2 431.6h0M394.0 438.4h0M408.3 419.5h0M504.4 451.2h0M476.4 451.9h0M436.9 473.4h0M402.4 443.4h0M406.6 464.8h0M400.9 412.2h0M410.6 376.2h0M438.9 455.1h0M498.5 373.6h0M452.7 439.3h0M422.6 400.8h0M506.2 476.4h0M496.5 389.4h0M442.1 422.2h0M449.6 474.5h0M452.7 442.2h0M422.8 461.0h0M478.3 468.9h0M454.1 415.9h0M399.4 399.6h0M500.5 371.1h0M424.9 476.4h0M413.2 465.8h0M397.1 407.5h0M437.3 446.7h0M398.1 402.9h0M464.0 441.1h0M408.8 387.8h0M393.9 461.3h0M436.3 478.8h0M403.3 424.7h0M426.4 420.5h0M468.5 409.3h0M461.9 390.8h0M418.7 453.2h0M413.4 438.6h0M480.6 375.4h0" stroke="#b098d0" stroke-width="1.93" stroke-linecap="round" opacity="0.55" fill="none"/><path d="M403.1 479.3h0M438.1 434.6h0M438.6 373.3h0M397.6 469.6h0M477.2 448.4h0M410.1 433.9h0M450.0 381.9h0M501.0 387.2h0M397.4 437.7h0M416.4 474.9h0M469.2 383.1h0M414.7 399.8h0M490.3 411.0h0M425.1 455.2h0M459.7 478.9h0M416.8 480.1h0M410.8 403.4h0M468.6 409.1h0M472.7 450.9h0M489.8 412.7h0M412.3 450.3h0M460.8 392.6h0M501.5 421.3h0M443.5 380.3h0M426.1 392.0h0M480.1 422.6h0M473.0 409.9h0M481.5 455.9h0M479.6 398.8h0M505.7 393.0h0M457.7 472.9h0M396.3 379.2h0M430.8 388.3h0M435.0 420.1h0M458.3 413.3h0M498.7 476.3h0M488.6 393.8h0M501.8 452.0h0M405.9 401.0h0M497.0 450.0h0M449.0 420.7h0M480.1 456.1h0M410.9 372.7h0M459.5 444.4h0M469.3 389.8h0M465.0 416.7h0M454.2 385.6h0M396.0 390.9h0M456.3 414.4h0M411.9 382.4h0M435.2 423.5h0M402.1 425.5h0M492.8 438.2h0M420.2 386.7h0M431.0 478.8h0M421.6 474.8h0M443.8 438.7h0M456.4 398.9h0M449.3 432.8h0M397.6 406.7h0M401.3 454.4h0M475.5 448.3h0M493.9 382.1h0M488.7 437.0h0M474.3 456.7h0M448.5 448.5h0M499.5 465.0h0M492.2 455.7h0M499.4 403.1h0M422.6 422.9h0M416.8 414.1h0M395.4 448.6h0M501.7 461.0h0M491.1 466.4h0M504.3 412.8h0M471.8 402.1h0M461.8 462.2h0M410.5 409.0h0M436.4 397.1h0M476.8 465.4h0M442.8 475.2h0M397.9 420.3h0M401.6 478.4h0M415.6 458.6h0M483.9 395.6h0M473.2 482.0h0M483.1 470.0h0M399.7 393.7h0M497.2 448.9h0M458.4 450.7h0M399.7 395.4h0M409.3 409.5h0M502.4 445.5h0M468.0 475.1h0M407.9 402.6h0M464.3 390.7h0M448.9 482.0h0M478.0 425.5h0M481.8 405.7h0M490.3 415.0h0M434.9 435.7h0M437.1 445.3h0M491.1 376.3h0M407.5 477.8h0M400.8 396.1h0M481.4 375.9h0M488.5 452.7h0M415.7 406.0h0M470.0 380.8h0M417.3 399.7h0M400.5 389.1h0M489.5 434.8h0M458.4 453.6h0M493.1 442.9h0M476.3 412.3h0M462.2 408.1h0M442.1 371.9h0M403.1 475.6h0M441.6 375.5h0M451.0 420.0h0M407.7 482.7h0M423.0 409.4h0M505.0 480.4h0M437.2 449.7h0M402.2 479.7h0M475.4 428.8h0M431.8 391.8h0M397.3 427.4h0M409.7 475.1h0M407.6 398.0h0M496.7 384.9h0M443.8 416.2h0M501.1 375.9h0M472.3 442.8h0M457.3 428.6h0M438.7 448.1h0M459.7 444.1h0M492.2 478.8h0M491.6 480.2h0M469.2 437.2h0M459.8 473.2h0M446.3 428.3h0M407.9 426.2h0M452.2 478.8h0M411.3 436.1h0M496.8 406.0h0M465.5 439.2h0M463.8 467.2h0M425.6 417.9h0M494.1 389.2h0M422.5 437.7h0M463.4 398.3h0M477.2 386.7h0M492.2 410.8h0M490.4 434.8h0M403.8 472.4h0M410.0 428.0h0M498.5 379.9h0M499.8 481.3h0M444.3 444.0h0M476.1 450.0h0M398.1 479.2h0M397.8 473.4h0M479.6 375.7h0M445.3 475.5h0M450.8 395.5h0M440.1 461.0h0M489.0 478.5h0M481.0 425.7h0M501.1 479.7h0M465.8 461.0h0M505.8 438.4h0M471.2 384.4h0M464.7 378.5h0M445.9 414.4h0M453.8 375.1h0" stroke="#b098d0" stroke-width="2.42" stroke-linecap="round" opacity="0.55" fill="none"/></g><g filter="url(#b3)"><ellipse cx="412" cy="390.4" rx="2.8289999999999997" ry="3.3209999999999997" fill="#a8b0e8" opacity="0.45"/><ellipse cx="404.3" cy="379.7" rx="2.46" ry="5.412" fill="#a8b0e8" opacity="0.45" transform="rotate(-20 404.3 379.7)"/><ellipse cx="426.8" cy="406" rx="4.6739999999999995" ry="4.1819999999999995" fill="#a8b0e8" opacity="0.45"/><ellipse cx="428" cy="402" rx="3.0749999999999997" ry="3.0749999999999997" fill="#a8b0e8" opacity="0.45"/><ellipse cx="438.5" cy="403" rx="5.166" ry="4.428" fill="#a8b0e8" opacity="0.45"/><ellipse cx="412.7" cy="410.4" rx="4.1819999999999995" ry="4.92" fill="#a8b0e8" opacity="0.45"/><ellipse cx="400.4" cy="417.8" rx="3.69" ry="3.69" fill="#a8b0e8" opacity="0.45"/><ellipse cx="398.5" cy="407.3" rx="2.46" ry="2.46" fill="#a8b0e8" opacity="0.45"/><ellipse cx="420" cy="425.8" rx="5.6579999999999995" ry="4.428" fill="#a8b0e8" opacity="0.45" transform="rotate(-20 420 425.8)"/><ellipse cx="414" cy="424.5" rx="3.69" ry="3.69" fill="#a8b0e8" opacity="0.45"/><ellipse cx="416" cy="419" rx="2.9519999999999995" ry="2.9519999999999995" fill="#a8b0e8" opacity="0.45"/><ellipse cx="452" cy="416" rx="3.1980000000000004" ry="3.1980000000000004" fill="#a8b0e8" opacity="0.45"/><ellipse cx="458.75" cy="384.75" rx="5.166" ry="5.166" fill="#a8b0e8" opacity="0.45"/><ellipse cx="466.25" cy="377.25" rx="4.058999999999999" ry="3.5669999999999993" fill="#a8b0e8" opacity="0.45"/><ellipse cx="477.5" cy="391" rx="4.1819999999999995" ry="3.936" fill="#a8b0e8" opacity="0.45"/><ellipse cx="500" cy="373.5" rx="3.444" ry="3.444" fill="#a8b0e8" opacity="0.45"/><ellipse cx="501.25" cy="384.75" rx="3.1980000000000004" ry="3.936" fill="#a8b0e8" opacity="0.45"/><ellipse cx="500.2" cy="395.8" rx="2.706" ry="2.706" fill="#a8b0e8" opacity="0.45"/><ellipse cx="480" cy="397.6" rx="2.706" ry="2.706" fill="#a8b0e8" opacity="0.45"/><ellipse cx="487.1" cy="397.6" rx="2.706" ry="2.706" fill="#a8b0e8" opacity="0.45"/><ellipse cx="453.75" cy="422.25" rx="4.1819999999999995" ry="4.6739999999999995" fill="#a8b0e8" opacity="0.45"/><ellipse cx="475" cy="422.25" rx="3.69" ry="4.1819999999999995" fill="#a8b0e8" opacity="0.45"/><ellipse cx="431.5" cy="434" rx="2.706" ry="5.6579999999999995" fill="#a8b0e8" opacity="0.45" transform="rotate(-35 431.5 434)"/><ellipse cx="436.5" cy="439.5" rx="2.46" ry="3.936" fill="#a8b0e8" opacity="0.45" transform="rotate(-10 436.5 439.5)"/><ellipse cx="412.7" cy="443" rx="4.92" ry="5.166" fill="#a8b0e8" opacity="0.45"/><ellipse cx="426.2" cy="444.2" rx="4.92" ry="4.92" fill="#a8b0e8" opacity="0.45"/><ellipse cx="448.3" cy="441.7" rx="3.444" ry="6.1499999999999995" fill="#a8b0e8" opacity="0.45"/><ellipse cx="400" cy="458.5" rx="3.69" ry="4.1819999999999995" fill="#a8b0e8" opacity="0.45"/><ellipse cx="413.75" cy="473.5" rx="4.6739999999999995" ry="4.6739999999999995" fill="#a8b0e8" opacity="0.45"/><ellipse cx="397.8" cy="470" rx="3.444" ry="3.444" fill="#a8b0e8" opacity="0.45"/><ellipse cx="447.8" cy="473.6" rx="2.706" ry="2.706" fill="#a8b0e8" opacity="0.45"/><ellipse cx="465" cy="448.5" rx="4.305" ry="3.5669999999999993" fill="#a8b0e8" opacity="0.45"/><ellipse cx="481.25" cy="458.5" rx="4.797" ry="4.058999999999999" fill="#a8b0e8" opacity="0.45"/><ellipse cx="483.75" cy="473.5" rx="2.9519999999999995" ry="5.412" fill="#a8b0e8" opacity="0.45" transform="rotate(45 483.75 473.5)"/><ellipse cx="492.5" cy="479.75" rx="3.5669999999999993" ry="3.1980000000000004" fill="#a8b0e8" opacity="0.45"/><ellipse cx="469.3" cy="471.2" rx="2.706" ry="2.706" fill="#a8b0e8" opacity="0.45"/><ellipse cx="457.4" cy="465.3" rx="2.706" ry="2.706" fill="#a8b0e8" opacity="0.45"/><ellipse cx="458.6" cy="473.6" rx="2.706" ry="2.706" fill="#a8b0e8" opacity="0.45"/><ellipse cx="405" cy="393" rx="2.46" ry="2.46" fill="#a8b0e8" opacity="0.45"/><ellipse cx="445" cy="385" rx="2.46" ry="2.46" fill="#a8b0e8" opacity="0.45"/><ellipse cx="490" cy="440" rx="2.46" ry="2.46" fill="#a8b0e8" opacity="0.45"/></g><g filter="url(#b12)"><ellipse cx="412" cy="390.4" rx="1.8859999999999997" ry="2.214" fill="#3454ac" opacity="0.9"/><ellipse cx="404.3" cy="379.7" rx="1.64" ry="3.608" fill="#9a8ad0" opacity="0.9" transform="rotate(-20 404.3 379.7)"/><ellipse cx="426.8" cy="406" rx="3.1159999999999997" ry="2.788" fill="#3454ac" opacity="0.9"/><ellipse cx="428" cy="402" rx="2.05" ry="2.05" fill="#3454ac" opacity="0.9"/><ellipse cx="438.5" cy="403" rx="3.444" ry="2.952" fill="#3454ac" opacity="0.9"/><ellipse cx="412.7" cy="410.4" rx="2.788" ry="3.28" fill="#2c46a0" opacity="0.9"/><ellipse cx="400.4" cy="417.8" rx="2.46" ry="2.46" fill="#3454ac" opacity="0.9"/><ellipse cx="398.5" cy="407.3" rx="2.05" ry="2.05" fill="#5e54aa" opacity="0.9"/><ellipse cx="420" cy="425.8" rx="3.7719999999999994" ry="2.952" fill="#2c46a0" opacity="0.9" transform="rotate(-20 420 425.8)"/><ellipse cx="414" cy="424.5" rx="2.46" ry="2.46" fill="#3454ac" opacity="0.9"/><ellipse cx="416" cy="419" rx="2.4599999999999995" ry="2.4599999999999995" fill="#5e54aa" opacity="0.9"/><ellipse cx="452" cy="416" rx="2.665" ry="2.665" fill="#5e54aa" opacity="0.9"/><ellipse cx="458.75" cy="384.75" rx="3.444" ry="3.444" fill="#3454ac" opacity="0.9"/><ellipse cx="466.25" cy="377.25" rx="2.7059999999999995" ry="2.3779999999999997" fill="#3454ac" opacity="0.9"/><ellipse cx="477.5" cy="391" rx="2.788" ry="2.624" fill="#3454ac" opacity="0.9"/><ellipse cx="500" cy="373.5" rx="2.296" ry="2.296" fill="#3454ac" opacity="0.9"/><ellipse cx="501.25" cy="384.75" rx="2.132" ry="2.624" fill="#3454ac" opacity="0.9"/><ellipse cx="500.2" cy="395.8" rx="2.255" ry="2.255" fill="#5e54aa" opacity="0.9"/><ellipse cx="480" cy="397.6" rx="2.255" ry="2.255" fill="#5e54aa" opacity="0.9"/><ellipse cx="487.1" cy="397.6" rx="2.255" ry="2.255" fill="#5e54aa" opacity="0.9"/><ellipse cx="453.75" cy="422.25" rx="3.4849999999999994" ry="3.8949999999999996" fill="#5e54aa" opacity="0.9"/><ellipse cx="475" cy="422.25" rx="3.0749999999999997" ry="3.4849999999999994" fill="#5e54aa" opacity="0.9"/><ellipse cx="431.5" cy="434" rx="1.804" ry="3.7719999999999994" fill="#2c46a0" opacity="0.9" transform="rotate(-35 431.5 434)"/><ellipse cx="436.5" cy="439.5" rx="1.64" ry="2.624" fill="#2c46a0" opacity="0.9" transform="rotate(-10 436.5 439.5)"/><ellipse cx="412.7" cy="443" rx="3.28" ry="3.444" fill="#2c46a0" opacity="0.9"/><ellipse cx="426.2" cy="444.2" rx="3.28" ry="3.28" fill="#3454ac" opacity="0.9"/><ellipse cx="448.3" cy="441.7" rx="2.8699999999999997" ry="5.125" fill="#5e54aa" opacity="0.9"/><ellipse cx="400" cy="458.5" rx="2.46" ry="2.788" fill="#3454ac" opacity="0.9"/><ellipse cx="413.75" cy="473.5" rx="3.1159999999999997" ry="3.1159999999999997" fill="#2c46a0" opacity="0.9"/><ellipse cx="397.8" cy="470" rx="2.8699999999999997" ry="2.8699999999999997" fill="#5e54aa" opacity="0.9"/><ellipse cx="447.8" cy="473.6" rx="1.804" ry="1.804" fill="#8080a8" opacity="0.9"/><ellipse cx="465" cy="448.5" rx="2.8699999999999997" ry="2.3779999999999997" fill="#6a8ad0" opacity="0.9"/><ellipse cx="481.25" cy="458.5" rx="3.198" ry="2.7059999999999995" fill="#3454ac" opacity="0.9"/><ellipse cx="483.75" cy="473.5" rx="1.9679999999999997" ry="3.608" fill="#3454ac" opacity="0.9" transform="rotate(45 483.75 473.5)"/><ellipse cx="492.5" cy="479.75" rx="2.3779999999999997" ry="2.132" fill="#3454ac" opacity="0.9"/><ellipse cx="469.3" cy="471.2" rx="1.804" ry="1.804" fill="#3454ac" opacity="0.9"/><ellipse cx="457.4" cy="465.3" rx="2.255" ry="2.255" fill="#5e54aa" opacity="0.9"/><ellipse cx="458.6" cy="473.6" rx="2.255" ry="2.255" fill="#5e54aa" opacity="0.9"/><ellipse cx="405" cy="393" rx="2.05" ry="2.05" fill="#5e54aa" opacity="0.9"/><ellipse cx="445" cy="385" rx="2.05" ry="2.05" fill="#5e54aa" opacity="0.9"/><ellipse cx="490" cy="440" rx="2.05" ry="2.05" fill="#5e54aa" opacity="0.9"/></g></g><rect x="393.5" y="369.7" width="122.5" height="113.4" fill="none" stroke="#3a3040" stroke-width="1.3"/>
</svg></body></html>
